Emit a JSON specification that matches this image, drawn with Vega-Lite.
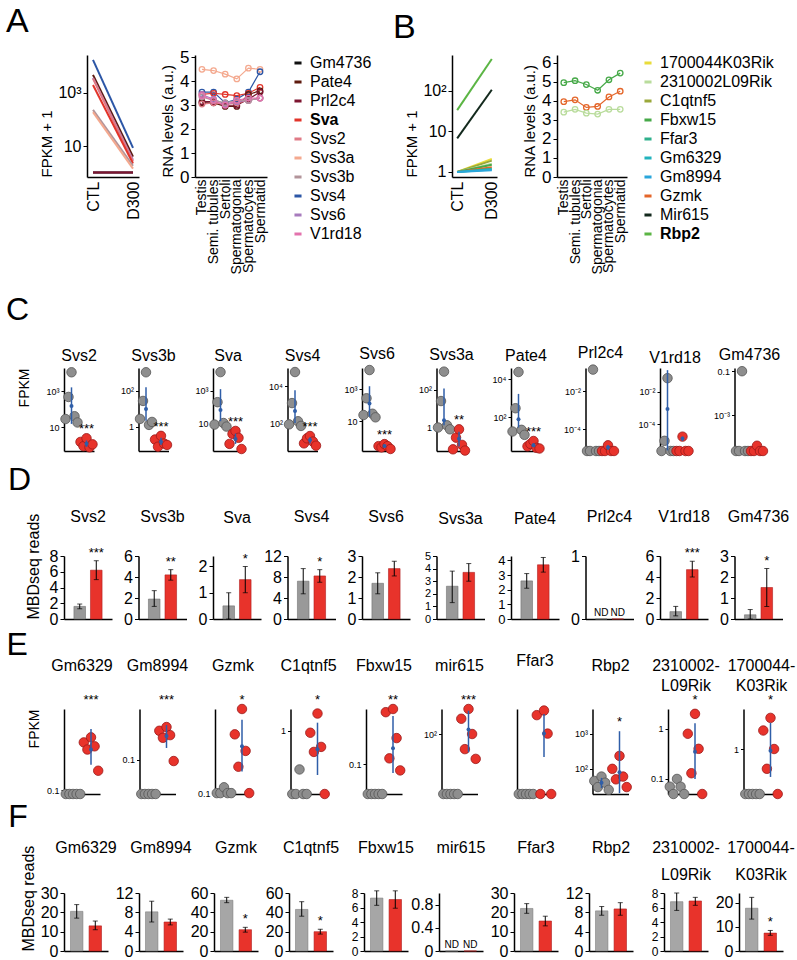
{
"$schema":"https://vega.github.io/schema/vega-lite/v6.json",
"padding":5,
"config":{"view":{"stroke":null},"font":"Liberation Sans",
"axis":{"grid":false,"domainColor":"black","domainWidth":1.5,"tickColor":"black","labelColor":"black","titleColor":"black","titleFontWeight":"normal","labelFont":"Liberation Sans","titleFont":"Liberation Sans","labelOverlap":false,"labelFontSize":16,"titleFontSize":15,"tickSize":4},
"axisBand":{"labels":false,"ticks":false},
"title":{"fontSize":16,"fontWeight":"normal","font":"Liberation Sans","color":"black"},
"text":{"font":"Liberation Sans"}},
"datasets":{
"ab":[
{"p":"A","g":"Svs4","grp":"CTL","v":17800},{"p":"A","g":"Svs4","grp":"D300","v":8.5},
{"p":"A","g":"Pate4","grp":"CTL","v":4800},{"p":"A","g":"Pate4","grp":"D300","v":4},
{"p":"A","g":"Svs6","grp":"CTL","v":3700},{"p":"A","g":"Svs6","grp":"D300","v":3},
{"p":"A","g":"Svs2","grp":"CTL","v":3500},{"p":"A","g":"Svs2","grp":"D300","v":2.6},
{"p":"A","g":"Sva","grp":"CTL","v":2000},{"p":"A","g":"Sva","grp":"D300","v":2.2},
{"p":"A","g":"Svs3b","grp":"CTL","v":230},{"p":"A","g":"Svs3b","grp":"D300","v":1.8},
{"p":"A","g":"Svs3a","grp":"CTL","v":190},{"p":"A","g":"Svs3a","grp":"D300","v":1.4},
{"p":"A","g":"V1rd18","grp":"CTL","v":1},{"p":"A","g":"V1rd18","grp":"D300","v":1},
{"p":"A","g":"Gm4736","grp":"CTL","v":1},{"p":"A","g":"Gm4736","grp":"D300","v":1},
{"p":"A","g":"Prl2c4","grp":"CTL","v":1},{"p":"A","g":"Prl2c4","grp":"D300","v":1},
{"p":"B","g":"Rbp2","grp":"CTL","v":33},{"p":"B","g":"Rbp2","grp":"D300","v":600},
{"p":"B","g":"Mir615","grp":"CTL","v":6.7},{"p":"B","g":"Mir615","grp":"D300","v":105},
{"p":"B","g":"1700044K03Rik","grp":"CTL","v":1},{"p":"B","g":"1700044K03Rik","grp":"D300","v":2.1},
{"p":"B","g":"C1qtnf5","grp":"CTL","v":1},{"p":"B","g":"C1qtnf5","grp":"D300","v":1.9},
{"p":"B","g":"2310002L09Rik","grp":"CTL","v":1},{"p":"B","g":"2310002L09Rik","grp":"D300","v":1.6},
{"p":"B","g":"Fbxw15","grp":"CTL","v":1},{"p":"B","g":"Fbxw15","grp":"D300","v":1.5},
{"p":"B","g":"Gzmk","grp":"CTL","v":1},{"p":"B","g":"Gzmk","grp":"D300","v":1.3},
{"p":"B","g":"Ffar3","grp":"CTL","v":1},{"p":"B","g":"Ffar3","grp":"D300","v":1.2},
{"p":"B","g":"Gm6329","grp":"CTL","v":1},{"p":"B","g":"Gm6329","grp":"D300","v":1.15},
{"p":"B","g":"Gm8994","grp":"CTL","v":1},{"p":"B","g":"Gm8994","grp":"D300","v":1.1}],
"rna":[
{"p":"A","g":"Svs3a","c":"Testis","v":4.5},{"p":"A","g":"Svs3a","c":"Semi. tubules","v":4.45},{"p":"A","g":"Svs3a","c":"Sertoli","v":4.3},{"p":"A","g":"Svs3a","c":"Spermatogonia","v":4.1},{"p":"A","g":"Svs3a","c":"Spermatocytes","v":4.55},{"p":"A","g":"Svs3a","c":"Spermatid","v":4.5},
{"p":"A","g":"Svs4","c":"Testis","v":3.55},{"p":"A","g":"Svs4","c":"Semi. tubules","v":3.55},{"p":"A","g":"Svs4","c":"Sertoli","v":3.1},{"p":"A","g":"Svs4","c":"Spermatogonia","v":3.25},{"p":"A","g":"Svs4","c":"Spermatocytes","v":3.55},{"p":"A","g":"Svs4","c":"Spermatid","v":4.4},
{"p":"A","g":"Sva","c":"Testis","v":3.45},{"p":"A","g":"Sva","c":"Semi. tubules","v":3.5},{"p":"A","g":"Sva","c":"Sertoli","v":3.45},{"p":"A","g":"Sva","c":"Spermatogonia","v":3.4},{"p":"A","g":"Sva","c":"Spermatocytes","v":3.5},{"p":"A","g":"Sva","c":"Spermatid","v":3.75},
{"p":"A","g":"Pate4","c":"Testis","v":3.1},{"p":"A","g":"Pate4","c":"Semi. tubules","v":3.1},{"p":"A","g":"Pate4","c":"Sertoli","v":2.95},{"p":"A","g":"Pate4","c":"Spermatogonia","v":2.95},{"p":"A","g":"Pate4","c":"Spermatocytes","v":3.45},{"p":"A","g":"Pate4","c":"Spermatid","v":3.6},
{"p":"A","g":"Prl2c4","c":"Testis","v":3.15},{"p":"A","g":"Prl2c4","c":"Semi. tubules","v":3.15},{"p":"A","g":"Prl2c4","c":"Sertoli","v":3.0},{"p":"A","g":"Prl2c4","c":"Spermatogonia","v":3.0},{"p":"A","g":"Prl2c4","c":"Spermatocytes","v":3.25},{"p":"A","g":"Prl2c4","c":"Spermatid","v":3.55},
{"p":"A","g":"Svs2","c":"Testis","v":3.05},{"p":"A","g":"Svs2","c":"Semi. tubules","v":3.1},{"p":"A","g":"Svs2","c":"Sertoli","v":3.05},{"p":"A","g":"Svs2","c":"Spermatogonia","v":3.1},{"p":"A","g":"Svs2","c":"Spermatocytes","v":3.2},{"p":"A","g":"Svs2","c":"Spermatid","v":3.3},
{"p":"A","g":"Svs6","c":"Testis","v":3.45},{"p":"A","g":"Svs6","c":"Semi. tubules","v":3.25},{"p":"A","g":"Svs6","c":"Sertoli","v":3.05},{"p":"A","g":"Svs6","c":"Spermatogonia","v":3.15},{"p":"A","g":"Svs6","c":"Spermatocytes","v":3.2},{"p":"A","g":"Svs6","c":"Spermatid","v":3.3},
{"p":"A","g":"Svs3b","c":"Testis","v":3.35},{"p":"A","g":"Svs3b","c":"Semi. tubules","v":3.2},{"p":"A","g":"Svs3b","c":"Sertoli","v":3.1},{"p":"A","g":"Svs3b","c":"Spermatogonia","v":3.2},{"p":"A","g":"Svs3b","c":"Spermatocytes","v":3.2},{"p":"A","g":"Svs3b","c":"Spermatid","v":3.3},
{"p":"A","g":"V1rd18","c":"Testis","v":3.4},{"p":"A","g":"V1rd18","c":"Semi. tubules","v":3.2},{"p":"A","g":"V1rd18","c":"Sertoli","v":3.0},{"p":"A","g":"V1rd18","c":"Spermatogonia","v":3.2},{"p":"A","g":"V1rd18","c":"Spermatocytes","v":3.3},{"p":"A","g":"V1rd18","c":"Spermatid","v":3.3},
{"p":"B","g":"Fbxw15","c":"Testis","v":4.95},{"p":"B","g":"Fbxw15","c":"Semi. tubules","v":5.05},{"p":"B","g":"Fbxw15","c":"Sertoli","v":4.85},{"p":"B","g":"Fbxw15","c":"Spermatogonia","v":4.55},{"p":"B","g":"Fbxw15","c":"Spermatocytes","v":5.1},{"p":"B","g":"Fbxw15","c":"Spermatid","v":5.45},
{"p":"B","g":"Gzmk","c":"Testis","v":3.95},{"p":"B","g":"Gzmk","c":"Semi. tubules","v":4.05},{"p":"B","g":"Gzmk","c":"Sertoli","v":3.65},{"p":"B","g":"Gzmk","c":"Spermatogonia","v":3.7},{"p":"B","g":"Gzmk","c":"Spermatocytes","v":4.2},{"p":"B","g":"Gzmk","c":"Spermatid","v":4.5},
{"p":"B","g":"2310002L09Rik","c":"Testis","v":3.4},{"p":"B","g":"2310002L09Rik","c":"Semi. tubules","v":3.55},{"p":"B","g":"2310002L09Rik","c":"Sertoli","v":3.35},{"p":"B","g":"2310002L09Rik","c":"Spermatogonia","v":3.3},{"p":"B","g":"2310002L09Rik","c":"Spermatocytes","v":3.55},{"p":"B","g":"2310002L09Rik","c":"Spermatid","v":3.55}],
"dots":[
{"g":"Svs2","k":"p","grp":"CTL","r":1,"v":28},{"g":"Svs2","k":"p","grp":"CTL","r":2,"v":470},{"g":"Svs2","k":"p","grp":"CTL","r":3,"v":11000},{"g":"Svs2","k":"p","grp":"CTL","r":4,"v":40},{"g":"Svs2","k":"p","grp":"CTL","r":5,"v":18},
{"g":"Svs2","k":"p","grp":"D300","r":1,"v":1.5},{"g":"Svs2","k":"p","grp":"D300","r":2,"v":0.87},{"g":"Svs2","k":"p","grp":"D300","r":3,"v":2.4},{"g":"Svs2","k":"p","grp":"D300","r":4,"v":0.75},{"g":"Svs2","k":"p","grp":"D300","r":5,"v":1.1},
{"g":"Svs2","k":"s","grp":"CTL","v":146,"lo":15,"hi":1600},{"g":"Svs2","k":"s","grp":"D300","v":1.2,"lo":0.8,"hi":1.8},{"g":"Svs2","k":"t","grp":"D300","v":2.4,"s":"***"},
{"g":"Svs3b","k":"p","grp":"CTL","r":1,"v":2.8},{"g":"Svs3b","k":"p","grp":"CTL","r":2,"v":28},{"g":"Svs3b","k":"p","grp":"CTL","r":3,"v":1100},{"g":"Svs3b","k":"p","grp":"CTL","r":4,"v":1.3},{"g":"Svs3b","k":"p","grp":"CTL","r":5,"v":1.9},
{"g":"Svs3b","k":"p","grp":"D300","r":1,"v":0.2},{"g":"Svs3b","k":"p","grp":"D300","r":2,"v":0.08},{"g":"Svs3b","k":"p","grp":"D300","r":3,"v":0.32},{"g":"Svs3b","k":"p","grp":"D300","r":4,"v":0.12},{"g":"Svs3b","k":"p","grp":"D300","r":5,"v":0.1},
{"g":"Svs3b","k":"s","grp":"CTL","v":10,"lo":2.2,"hi":160},{"g":"Svs3b","k":"s","grp":"D300","v":0.15,"lo":0.1,"hi":0.25},{"g":"Svs3b","k":"t","grp":"D300","v":0.32,"s":"***"},
{"g":"Sva","k":"p","grp":"CTL","r":1,"v":8},{"g":"Sva","k":"p","grp":"CTL","r":2,"v":200},{"g":"Sva","k":"p","grp":"CTL","r":3,"v":15000},{"g":"Sva","k":"p","grp":"CTL","r":4,"v":10},{"g":"Sva","k":"p","grp":"CTL","r":5,"v":6},
{"g":"Sva","k":"p","grp":"D300","r":1,"v":0.5},{"g":"Sva","k":"p","grp":"D300","r":2,"v":2.1},{"g":"Sva","k":"p","grp":"D300","r":3,"v":3.2},{"g":"Sva","k":"p","grp":"D300","r":4,"v":1.2},{"g":"Sva","k":"p","grp":"D300","r":5,"v":0.24},
{"g":"Sva","k":"s","grp":"CTL","v":65,"lo":13,"hi":1300},{"g":"Sva","k":"s","grp":"D300","v":1.0,"lo":0.5,"hi":2.2},{"g":"Sva","k":"t","grp":"D300","v":3.2,"s":"***"},
{"g":"Svs4","k":"p","grp":"CTL","r":1,"v":85},{"g":"Svs4","k":"p","grp":"CTL","r":2,"v":1200},{"g":"Svs4","k":"p","grp":"CTL","r":3,"v":57000},{"g":"Svs4","k":"p","grp":"CTL","r":4,"v":125},{"g":"Svs4","k":"p","grp":"CTL","r":5,"v":70},
{"g":"Svs4","k":"p","grp":"D300","r":1,"v":8},{"g":"Svs4","k":"p","grp":"D300","r":2,"v":15},{"g":"Svs4","k":"p","grp":"D300","r":3,"v":20},{"g":"Svs4","k":"p","grp":"D300","r":4,"v":10},{"g":"Svs4","k":"p","grp":"D300","r":5,"v":6},
{"g":"Svs4","k":"s","grp":"CTL","v":450,"lo":100,"hi":6000},{"g":"Svs4","k":"s","grp":"D300","v":12,"lo":8,"hi":17},{"g":"Svs4","k":"t","grp":"D300","v":20,"s":"***"},
{"g":"Svs6","k":"p","grp":"CTL","r":1,"v":25},{"g":"Svs6","k":"p","grp":"CTL","r":2,"v":270},{"g":"Svs6","k":"p","grp":"CTL","r":3,"v":15000},{"g":"Svs6","k":"p","grp":"CTL","r":4,"v":30},{"g":"Svs6","k":"p","grp":"CTL","r":5,"v":18},
{"g":"Svs6","k":"p","grp":"D300","r":1,"v":0.3},{"g":"Svs6","k":"p","grp":"D300","r":2,"v":0.25},{"g":"Svs6","k":"p","grp":"D300","r":3,"v":0.4},{"g":"Svs6","k":"p","grp":"D300","r":4,"v":0.3},{"g":"Svs6","k":"p","grp":"D300","r":5,"v":0.2},
{"g":"Svs6","k":"s","grp":"CTL","v":130,"lo":20,"hi":1500},{"g":"Svs6","k":"s","grp":"D300","v":0.3,"lo":0.24,"hi":0.37},{"g":"Svs6","k":"t","grp":"D300","v":0.4,"s":"***"},
{"g":"Svs3a","k":"p","grp":"CTL","r":1,"v":1.0},{"g":"Svs3a","k":"p","grp":"CTL","r":2,"v":25},{"g":"Svs3a","k":"p","grp":"CTL","r":3,"v":900},{"g":"Svs3a","k":"p","grp":"CTL","r":4,"v":1.3},{"g":"Svs3a","k":"p","grp":"CTL","r":5,"v":0.8},
{"g":"Svs3a","k":"p","grp":"D300","r":1,"v":0.07},{"g":"Svs3a","k":"p","grp":"D300","r":2,"v":0.29},{"g":"Svs3a","k":"p","grp":"D300","r":3,"v":0.8},{"g":"Svs3a","k":"p","grp":"D300","r":4,"v":0.12},{"g":"Svs3a","k":"p","grp":"D300","r":5,"v":0.06},
{"g":"Svs3a","k":"s","grp":"CTL","v":2.4,"lo":1.3,"hi":115},{"g":"Svs3a","k":"s","grp":"D300","v":0.25,"lo":0.1,"hi":0.6},{"g":"Svs3a","k":"t","grp":"D300","v":0.8,"s":"**"},
{"g":"Pate4","k":"p","grp":"CTL","r":1,"v":18},{"g":"Pate4","k":"p","grp":"CTL","r":2,"v":300},{"g":"Pate4","k":"p","grp":"CTL","r":3,"v":24000},{"g":"Pate4","k":"p","grp":"CTL","r":4,"v":22},{"g":"Pate4","k":"p","grp":"CTL","r":5,"v":12},
{"g":"Pate4","k":"p","grp":"D300","r":1,"v":3},{"g":"Pate4","k":"p","grp":"D300","r":2,"v":4},{"g":"Pate4","k":"p","grp":"D300","r":3,"v":5.7},{"g":"Pate4","k":"p","grp":"D300","r":4,"v":2.5},{"g":"Pate4","k":"p","grp":"D300","r":5,"v":2.3},
{"g":"Pate4","k":"s","grp":"CTL","v":78,"lo":29,"hi":1700},{"g":"Pate4","k":"s","grp":"D300","v":3.4,"lo":2.7,"hi":4.3},{"g":"Pate4","k":"t","grp":"D300","v":5.7,"s":"***"},
{"g":"Prl2c4","k":"p","grp":"CTL","r":1,"v":7e-6},{"g":"Prl2c4","k":"p","grp":"CTL","r":2,"v":7e-6},{"g":"Prl2c4","k":"p","grp":"CTL","r":3,"v":0.14},{"g":"Prl2c4","k":"p","grp":"CTL","r":4,"v":7e-6},{"g":"Prl2c4","k":"p","grp":"CTL","r":5,"v":7e-6},
{"g":"Prl2c4","k":"p","grp":"D300","r":1,"v":7e-6},{"g":"Prl2c4","k":"p","grp":"D300","r":2,"v":7e-6},{"g":"Prl2c4","k":"p","grp":"D300","r":3,"v":1.4e-5},{"g":"Prl2c4","k":"p","grp":"D300","r":4,"v":7e-6},{"g":"Prl2c4","k":"p","grp":"D300","r":5,"v":7e-6},
{"g":"Prl2c4","k":"s","grp":"D300","v":1.1e-5,"lo":8e-6,"hi":1.4e-5},
{"g":"V1rd18","k":"p","grp":"CTL","r":1,"v":2.4e-6},{"g":"V1rd18","k":"p","grp":"CTL","r":2,"v":1e-5},{"g":"V1rd18","k":"p","grp":"CTL","r":3,"v":0.065},{"g":"V1rd18","k":"p","grp":"CTL","r":4,"v":2.4e-6},{"g":"V1rd18","k":"p","grp":"CTL","r":5,"v":2.4e-6},
{"g":"V1rd18","k":"p","grp":"D300","r":1,"v":2.4e-6},{"g":"V1rd18","k":"p","grp":"D300","r":2,"v":2.4e-6},{"g":"V1rd18","k":"p","grp":"D300","r":3,"v":1.8e-5},{"g":"V1rd18","k":"p","grp":"D300","r":4,"v":2.4e-6},{"g":"V1rd18","k":"p","grp":"D300","r":5,"v":2.4e-6},
{"g":"V1rd18","k":"s","grp":"CTL","v":8.7e-4,"lo":2.6e-6,"hi":0.2},{"g":"V1rd18","k":"s","grp":"D300","v":1.4e-5,"lo":1e-5,"hi":1.8e-5},
{"g":"Gm4736","k":"p","grp":"CTL","r":1,"v":2.3e-5},{"g":"Gm4736","k":"p","grp":"CTL","r":2,"v":2.3e-5},{"g":"Gm4736","k":"p","grp":"CTL","r":3,"v":0.1},{"g":"Gm4736","k":"p","grp":"CTL","r":4,"v":2.3e-5},{"g":"Gm4736","k":"p","grp":"CTL","r":5,"v":2.3e-5},
{"g":"Gm4736","k":"p","grp":"D300","r":1,"v":2.3e-5},{"g":"Gm4736","k":"p","grp":"D300","r":2,"v":2.3e-5},{"g":"Gm4736","k":"p","grp":"D300","r":3,"v":4e-5},{"g":"Gm4736","k":"p","grp":"D300","r":4,"v":2.3e-5},{"g":"Gm4736","k":"p","grp":"D300","r":5,"v":2.3e-5},
{"g":"Gm6329","k":"p","grp":"CTL","r":1,"v":0.08},{"g":"Gm6329","k":"p","grp":"CTL","r":2,"v":0.08},{"g":"Gm6329","k":"p","grp":"CTL","r":3,"v":0.08},{"g":"Gm6329","k":"p","grp":"CTL","r":4,"v":0.08},{"g":"Gm6329","k":"p","grp":"CTL","r":5,"v":0.08},
{"g":"Gm6329","k":"p","grp":"D300","r":1,"v":1.5},{"g":"Gm6329","k":"p","grp":"D300","r":2,"v":1.0},{"g":"Gm6329","k":"p","grp":"D300","r":3,"v":2},{"g":"Gm6329","k":"p","grp":"D300","r":4,"v":1.2},{"g":"Gm6329","k":"p","grp":"D300","r":5,"v":0.3},
{"g":"Gm6329","k":"s","grp":"D300","v":1.0,"lo":0.42,"hi":3.2},{"g":"Gm6329","k":"t","grp":"D300","v":10,"s":"***"},
{"g":"Gm8994","k":"p","grp":"CTL","r":1,"v":0.014},{"g":"Gm8994","k":"p","grp":"CTL","r":2,"v":0.014},{"g":"Gm8994","k":"p","grp":"CTL","r":3,"v":0.014},{"g":"Gm8994","k":"p","grp":"CTL","r":4,"v":0.014},{"g":"Gm8994","k":"p","grp":"CTL","r":5,"v":0.014},
{"g":"Gm8994","k":"p","grp":"D300","r":1,"v":0.54},{"g":"Gm8994","k":"p","grp":"D300","r":2,"v":0.36},{"g":"Gm8994","k":"p","grp":"D300","r":3,"v":0.67},{"g":"Gm8994","k":"p","grp":"D300","r":4,"v":0.42},{"g":"Gm8994","k":"p","grp":"D300","r":5,"v":0.094},
{"g":"Gm8994","k":"s","grp":"D300","v":0.4,"lo":0.2,"hi":0.75},{"g":"Gm8994","k":"t","grp":"D300","v":1.9,"s":"***"},
{"g":"Gzmk","k":"p","grp":"CTL","r":1,"v":0.1},{"g":"Gzmk","k":"p","grp":"CTL","r":2,"v":0.1},{"g":"Gzmk","k":"p","grp":"CTL","r":3,"v":0.14},{"g":"Gzmk","k":"p","grp":"CTL","r":4,"v":0.1},{"g":"Gzmk","k":"p","grp":"CTL","r":5,"v":0.1},
{"g":"Gzmk","k":"p","grp":"D300","r":1,"v":3},{"g":"Gzmk","k":"p","grp":"D300","r":2,"v":0.46},{"g":"Gzmk","k":"p","grp":"D300","r":3,"v":13},{"g":"Gzmk","k":"p","grp":"D300","r":4,"v":1.15},{"g":"Gzmk","k":"p","grp":"D300","r":5,"v":0.1},
{"g":"Gzmk","k":"s","grp":"D300","v":1.5,"lo":0.35,"hi":7},{"g":"Gzmk","k":"t","grp":"D300","v":13,"s":"*"},
{"g":"C1qtnf5","k":"p","grp":"CTL","r":1,"v":0.027},{"g":"C1qtnf5","k":"p","grp":"CTL","r":2,"v":0.027},{"g":"C1qtnf5","k":"p","grp":"CTL","r":3,"v":0.11},{"g":"C1qtnf5","k":"p","grp":"CTL","r":4,"v":0.027},{"g":"C1qtnf5","k":"p","grp":"CTL","r":5,"v":0.027},
{"g":"C1qtnf5","k":"p","grp":"D300","r":1,"v":0.9},{"g":"C1qtnf5","k":"p","grp":"D300","r":2,"v":0.3},{"g":"C1qtnf5","k":"p","grp":"D300","r":3,"v":2.7},{"g":"C1qtnf5","k":"p","grp":"D300","r":4,"v":0.4},{"g":"C1qtnf5","k":"p","grp":"D300","r":5,"v":0.027},
{"g":"C1qtnf5","k":"s","grp":"D300","v":0.35,"lo":0.08,"hi":1.6},{"g":"C1qtnf5","k":"t","grp":"D300","v":3.5,"s":"*"},
{"g":"Fbxw15","k":"p","grp":"CTL","r":1,"v":0.018},{"g":"Fbxw15","k":"p","grp":"CTL","r":2,"v":0.018},{"g":"Fbxw15","k":"p","grp":"CTL","r":3,"v":0.018},{"g":"Fbxw15","k":"p","grp":"CTL","r":4,"v":0.018},{"g":"Fbxw15","k":"p","grp":"CTL","r":5,"v":0.018},
{"g":"Fbxw15","k":"p","grp":"D300","r":1,"v":2.0},{"g":"Fbxw15","k":"p","grp":"D300","r":2,"v":0.14},{"g":"Fbxw15","k":"p","grp":"D300","r":3,"v":2.4},{"g":"Fbxw15","k":"p","grp":"D300","r":4,"v":0.45},{"g":"Fbxw15","k":"p","grp":"D300","r":5,"v":0.07},
{"g":"Fbxw15","k":"s","grp":"D300","v":0.25,"lo":0.06,"hi":1.6},{"g":"Fbxw15","k":"t","grp":"D300","v":2.4,"s":"**"},
{"g":"mir615","k":"p","grp":"CTL","r":1,"v":3.2},{"g":"mir615","k":"p","grp":"CTL","r":2,"v":3.2},{"g":"mir615","k":"p","grp":"CTL","r":3,"v":3.2},{"g":"mir615","k":"p","grp":"CTL","r":4,"v":3.2},{"g":"mir615","k":"p","grp":"CTL","r":5,"v":3.2},
{"g":"mir615","k":"p","grp":"D300","r":1,"v":240},{"g":"mir615","k":"p","grp":"D300","r":2,"v":42},{"g":"mir615","k":"p","grp":"D300","r":3,"v":420},{"g":"mir615","k":"p","grp":"D300","r":4,"v":100},{"g":"mir615","k":"p","grp":"D300","r":5,"v":24},
{"g":"mir615","k":"s","grp":"D300","v":130,"lo":35,"hi":380},{"g":"mir615","k":"t","grp":"D300","v":420,"s":"***"},
{"g":"Ffar3","k":"p","grp":"CTL","r":1,"v":0.01},{"g":"Ffar3","k":"p","grp":"CTL","r":2,"v":0.01},{"g":"Ffar3","k":"p","grp":"CTL","r":3,"v":0.01},{"g":"Ffar3","k":"p","grp":"CTL","r":4,"v":0.01},{"g":"Ffar3","k":"p","grp":"CTL","r":5,"v":0.01},
{"g":"Ffar3","k":"p","grp":"D300","r":1,"v":0.85},{"g":"Ffar3","k":"p","grp":"D300","r":2,"v":0.01},{"g":"Ffar3","k":"p","grp":"D300","r":3,"v":1.1},{"g":"Ffar3","k":"p","grp":"D300","r":4,"v":0.3},{"g":"Ffar3","k":"p","grp":"D300","r":5,"v":0.01},
{"g":"Ffar3","k":"s","grp":"D300","v":0.3,"lo":0.08,"hi":0.9},
{"g":"Rbp2","k":"p","grp":"CTL","r":1,"v":45},{"g":"Rbp2","k":"p","grp":"CTL","r":2,"v":30},{"g":"Rbp2","k":"p","grp":"CTL","r":3,"v":60},{"g":"Rbp2","k":"p","grp":"CTL","r":4,"v":40},{"g":"Rbp2","k":"p","grp":"CTL","r":5,"v":25},
{"g":"Rbp2","k":"p","grp":"D300","r":1,"v":100},{"g":"Rbp2","k":"p","grp":"D300","r":2,"v":50},{"g":"Rbp2","k":"p","grp":"D300","r":3,"v":235},{"g":"Rbp2","k":"p","grp":"D300","r":4,"v":60},{"g":"Rbp2","k":"p","grp":"D300","r":5,"v":30},
{"g":"Rbp2","k":"s","grp":"CTL","v":40,"lo":28,"hi":55},{"g":"Rbp2","k":"s","grp":"D300","v":80,"lo":20,"hi":1200},{"g":"Rbp2","k":"t","grp":"D300","v":1200,"s":"*"},
{"g":"2310002L09Rik","k":"p","grp":"CTL","r":1,"v":0.07},{"g":"2310002L09Rik","k":"p","grp":"CTL","r":2,"v":0.05},{"g":"2310002L09Rik","k":"p","grp":"CTL","r":3,"v":0.1},{"g":"2310002L09Rik","k":"p","grp":"CTL","r":4,"v":0.07},{"g":"2310002L09Rik","k":"p","grp":"CTL","r":5,"v":0.05},
{"g":"2310002L09Rik","k":"p","grp":"D300","r":1,"v":0.8},{"g":"2310002L09Rik","k":"p","grp":"D300","r":2,"v":0.13},{"g":"2310002L09Rik","k":"p","grp":"D300","r":3,"v":2},{"g":"2310002L09Rik","k":"p","grp":"D300","r":4,"v":0.4},{"g":"2310002L09Rik","k":"p","grp":"D300","r":5,"v":0.05},
{"g":"2310002L09Rik","k":"s","grp":"D300","v":0.35,"lo":0.1,"hi":1.3},{"g":"2310002L09Rik","k":"t","grp":"D300","v":2.5,"s":"*"},
{"g":"1700044K03Rik","k":"p","grp":"CTL","r":1,"v":0.075},{"g":"1700044K03Rik","k":"p","grp":"CTL","r":2,"v":0.075},{"g":"1700044K03Rik","k":"p","grp":"CTL","r":3,"v":0.075},{"g":"1700044K03Rik","k":"p","grp":"CTL","r":4,"v":0.075},{"g":"1700044K03Rik","k":"p","grp":"CTL","r":5,"v":0.075},
{"g":"1700044K03Rik","k":"p","grp":"D300","r":1,"v":2.9},{"g":"1700044K03Rik","k":"p","grp":"D300","r":2,"v":0.32},{"g":"1700044K03Rik","k":"p","grp":"D300","r":3,"v":6},{"g":"1700044K03Rik","k":"p","grp":"D300","r":4,"v":1},{"g":"1700044K03Rik","k":"p","grp":"D300","r":5,"v":0.075},
{"g":"1700044K03Rik","k":"s","grp":"D300","v":0.9,"lo":0.2,"hi":4.5},{"g":"1700044K03Rik","k":"t","grp":"D300","v":10,"s":"*"}],
"bars":[
{"g":"Svs2","grp":"CTL","v":1.6,"lo":1.3,"hi":1.9},{"g":"Svs2","grp":"D300","v":6.2,"lo":5.0,"hi":7.4,"s":"***"},
{"g":"Svs3b","grp":"CTL","v":1.9,"lo":1.2,"hi":2.7},{"g":"Svs3b","grp":"D300","v":4.2,"lo":3.7,"hi":4.7,"s":"**"},
{"g":"Sva","grp":"CTL","v":0.5,"lo":0.0,"hi":1.0},{"g":"Sva","grp":"D300","v":1.5,"lo":1.0,"hi":2.0,"s":"*"},
{"g":"Svs4","grp":"CTL","v":7.2,"lo":4.8,"hi":9.6},{"g":"Svs4","grp":"D300","v":8.2,"lo":7.0,"hi":9.4,"s":"*"},
{"g":"Svs6","grp":"CTL","v":1.7,"lo":1.2,"hi":2.2},{"g":"Svs6","grp":"D300","v":2.4,"lo":2.05,"hi":2.75},
{"g":"Svs3a","grp":"CTL","v":2.6,"lo":1.3,"hi":3.8},{"g":"Svs3a","grp":"D300","v":3.7,"lo":3.0,"hi":4.4},
{"g":"Pate4","grp":"CTL","v":2.6,"lo":2.1,"hi":3.1},{"g":"Pate4","grp":"D300","v":3.7,"lo":3.2,"hi":4.2},
{"g":"Prl2c4","grp":"CTL","v":0,"lo":0,"hi":0,"s":"ND"},{"g":"Prl2c4","grp":"D300","v":0,"lo":0,"hi":0,"s":"ND"},
{"g":"V1rd18","grp":"CTL","v":0.7,"lo":0.3,"hi":1.2},{"g":"V1rd18","grp":"D300","v":4.7,"lo":4.0,"hi":5.5,"s":"***"},
{"g":"Gm4736","grp":"CTL","v":0.2,"lo":0.0,"hi":0.45},{"g":"Gm4736","grp":"D300","v":1.5,"lo":0.6,"hi":2.4,"s":"*"},
{"g":"Gm6329","grp":"CTL","v":20.5,"lo":17,"hi":24},{"g":"Gm6329","grp":"D300","v":13,"lo":11,"hi":15.5},
{"g":"Gm8994","grp":"CTL","v":8.1,"lo":6,"hi":10.3},{"g":"Gm8994","grp":"D300","v":6,"lo":5.4,"hi":6.6},
{"g":"Gzmk","grp":"CTL","v":52.5,"lo":50,"hi":55.5},{"g":"Gzmk","grp":"D300","v":22,"lo":19.5,"hi":24.5,"s":"*"},
{"g":"C1qtnf5","grp":"CTL","v":43,"lo":36,"hi":51},{"g":"C1qtnf5","grp":"D300","v":20,"lo":17.5,"hi":22.5,"s":"*"},
{"g":"Fbxw15","grp":"CTL","v":7.3,"lo":6.3,"hi":8.3},{"g":"Fbxw15","grp":"D300","v":7.1,"lo":5.9,"hi":8.3},
{"g":"mir615","grp":"CTL","v":0,"lo":0,"hi":0,"s":"ND"},{"g":"mir615","grp":"D300","v":0,"lo":0,"hi":0,"s":"ND"},
{"g":"Ffar3","grp":"CTL","v":22,"lo":19.5,"hi":24.5},{"g":"Ffar3","grp":"D300","v":15.5,"lo":13,"hi":18},
{"g":"Rbp2","grp":"CTL","v":8.3,"lo":7.4,"hi":9.2},{"g":"Rbp2","grp":"D300","v":8.7,"lo":7.4,"hi":10},
{"g":"2310002L09Rik","grp":"CTL","v":6.8,"lo":5.6,"hi":8},{"g":"2310002L09Rik","grp":"D300","v":6.9,"lo":6.3,"hi":7.4},
{"g":"1700044K03Rik","grp":"CTL","v":17.7,"lo":13.2,"hi":22.2},{"g":"1700044K03Rik","grp":"D300","v":7.4,"lo":6.5,"hi":8.5,"s":"*"}]
},
"columns":1,"align":"none","spacing":20,
"resolve":{"scale":{"xOffset":"independent","color":"independent"}},
"concat":[
{"bounds":"flush","spacing":22,"resolve":{"scale":{"color":"independent"}},"hconcat":[
 {"width":1,"height":1,"title":{"text":"A","anchor":"start","fontSize":34,"offset":16,"dx":-58},"data":{"name":"ab"},"transform":[{"filter":"false"}],"mark":"point"},
 {"spacing":20,"resolve":{"scale":{"color":"independent"}},"hconcat":[
 {"spacing":18,"hconcat":[
  {"width":52,"height":122,"data":{"name":"ab"},"transform":[{"filter":"datum.p=='A'"}],"mark":{"type":"line","strokeWidth":2},
   "encoding":{"x":{"field":"grp","type":"nominal","title":null,"scale":{"domain":["CTL","D300"],"padding":0.15},"axis":{"labelAngle":-90,"ticks":false,"labelPadding":4}},
   "y":{"field":"v","type":"quantitative","title":"FPKM + 1","scale":{"type":"log","domain":[0.68,27000]},"axis":{"values":[10,1000],"titleAnchor":"start","titlePadding":3,"labelExpr":"datum.value>=1&&datum.value<=10?datum.value+'':(datum.value>0.09&&datum.value<0.11)?'0.1':'10'+(datum.value<1?'⁻':'')+['⁰','¹','²','³','⁴','⁵','⁶'][abs(round(log(datum.value)/LN10))]"}},
   "color":{"field":"g","type":"nominal","scale":{"domain":["Gm4736","Pate4","Prl2c4","Sva","Svs2","Svs3a","Svs3b","Svs4","Svs6","V1rd18"],"range":["#111111","#5e1a0e","#7d1530","#e2342a","#e07a86","#f4a98f","#b2949a","#2c56a6","#a77bbd","#e372ad"]},
   "legend":{"title":null,"orient":"right","offset":22,"symbolType":"stroke","symbolStrokeWidth":3,"symbolSize":50,"labelFontSize":16,"rowPadding":3,"labelOffset":4,"encode":{"labels":{"update":{"fontWeight":{"signal":"datum.label=='Sva'||datum.label=='Rbp2'?'bold':'normal'"}}}}}}}},
  {"width":72,"height":122,"data":{"name":"rna"},"transform":[{"filter":"datum.p=='A'"}],"mark":{"type":"line","strokeWidth":1.2,"point":{"filled":false,"size":30,"strokeWidth":1.3}},
   "encoding":{"x":{"field":"c","type":"nominal","title":null,"sort":["Testis","Semi. tubules","Sertoli","Spermatogonia","Spermatocytes","Spermatid"],"scale":{"padding":0.6},"axis":{"labelAngle":-90,"labelFontSize":14,"ticks":false}},
   "y":{"field":"v","type":"quantitative","title":"RNA levels (a.u.)","scale":{"domain":[0,5.1]},"axis":{"values":[0,1,2,3,4,5],"labelFontSize":17,"titleAnchor":"start"}},
   "color":{"field":"g","type":"nominal","scale":{"domain":["Gm4736","Pate4","Prl2c4","Sva","Svs2","Svs3a","Svs3b","Svs4","Svs6","V1rd18"],"range":["#111111","#5e1a0e","#7d1530","#e2342a","#e07a86","#f4a98f","#b2949a","#2c56a6","#a77bbd","#e372ad"]},
   "legend":{"title":null,"orient":"right","offset":22,"symbolType":"stroke","symbolStrokeWidth":3,"symbolSize":50,"labelFontSize":16,"rowPadding":3,"labelOffset":4,"encode":{"labels":{"update":{"fontWeight":{"signal":"datum.label=='Sva'||datum.label=='Rbp2'?'bold':'normal'"}}}}}}}}
 ]},
 {"title":{"text":"B","anchor":"start","fontSize":34,"offset":9,"dx":-12},"spacing":22,"hconcat":[
  {"width":45,"height":122,"data":{"name":"ab"},"transform":[{"filter":"datum.p=='B'"}],"mark":{"type":"line","strokeWidth":2},
   "encoding":{"x":{"field":"grp","type":"nominal","title":null,"scale":{"domain":["CTL","D300"],"padding":0.15},"axis":{"labelAngle":-90,"ticks":false,"labelPadding":4}},
   "y":{"field":"v","type":"quantitative","title":"FPKM + 1","scale":{"type":"log","domain":[0.75,750]},"axis":{"values":[1,10,100],"titleAnchor":"start","titlePadding":3,"labelExpr":"datum.value>=1&&datum.value<=10?datum.value+'':(datum.value>0.09&&datum.value<0.11)?'0.1':'10'+(datum.value<1?'⁻':'')+['⁰','¹','²','³','⁴','⁵','⁶'][abs(round(log(datum.value)/LN10))]"}},
   "color":{"field":"g","type":"nominal","scale":{"domain":["1700044K03Rik","2310002L09Rik","C1qtnf5","Fbxw15","Ffar3","Gm6329","Gm8994","Gzmk","Mir615","Rbp2"],"range":["#e9dc3a","#b9dc9c","#9aa83a","#46a948","#2fb08c","#22b3bd","#2aa6db","#e4662a","#13291d","#5bb544"]},
   "legend":{"title":null,"orient":"right","offset":12,"symbolType":"stroke","symbolStrokeWidth":3,"symbolSize":50,"labelFontSize":16,"rowPadding":3,"labelOffset":4,"encode":{"labels":{"update":{"fontWeight":{"signal":"datum.label=='Sva'||datum.label=='Rbp2'?'bold':'normal'"}}}}}}}},
  {"width":70,"height":122,"data":{"name":"rna"},"transform":[{"filter":"datum.p=='B'"}],"mark":{"type":"line","strokeWidth":1.2,"point":{"filled":false,"size":30,"strokeWidth":1.3}},
   "encoding":{"x":{"field":"c","type":"nominal","title":null,"sort":["Testis","Semi. tubules","Sertoli","Spermatogonia","Spermatocytes","Spermatid"],"scale":{"padding":0.6},"axis":{"labelAngle":-90,"labelFontSize":14,"ticks":false}},
   "y":{"field":"v","type":"quantitative","title":"RNA levels (a.u.)","scale":{"domain":[0,6.4]},"axis":{"values":[0,1,2,3,4,5,6],"labelFontSize":17,"titleAnchor":"start"}},
   "color":{"field":"g","type":"nominal","scale":{"domain":["1700044K03Rik","2310002L09Rik","C1qtnf5","Fbxw15","Ffar3","Gm6329","Gm8994","Gzmk","Mir615","Rbp2"],"range":["#e9dc3a","#b9dc9c","#9aa83a","#46a948","#2fb08c","#22b3bd","#2aa6db","#e4662a","#13291d","#5bb544"]},
   "legend":{"title":null,"orient":"right","offset":12,"symbolType":"stroke","symbolStrokeWidth":3,"symbolSize":50,"labelFontSize":16,"rowPadding":3,"labelOffset":4,"encode":{"labels":{"update":{"fontWeight":{"signal":"datum.label=='Sva'||datum.label=='Rbp2'?'bold':'normal'"}}}}}}}}
 ]}
 ]}
]},
{"columns":1,"align":"none","spacing":2,"resolve":{"scale":{"xOffset":"independent"}},"concat":[
 {"columns":1,"align":"none","spacing":6,"resolve":{"scale":{"xOffset":"independent"}},"concat":[
  {"title":{"text":"C","anchor":"start","fontSize":32,"offset":18,"dx":-12},"data":{"name":"dots"},"bounds":"flush","spacing":44.5,"resolve":{"scale":{"xOffset":"independent"}},"hconcat":[
   {"title":{"text":"Svs2","offset":2},"width":30,"height":83,"transform":[{"filter":"datum.g=='Svs2'"}],"encoding":{"x":{"field":"grp","type":"nominal","title":null,"scale":{"domain":["CTL","D300"],"paddingInner":0,"paddingOuter":0}},"y":{"field":"v","type":"quantitative","title":"FPKM","scale":{"type":"log","domain":[0.47,19000]},"axis":{"values":[10,1000],"labelExpr":"datum.value>=1&&datum.value<=10?datum.value+'':(datum.value>0.09&&datum.value<0.11)?'0.1':'10'+(datum.value<1?'⁻':'')+['⁰','¹','²','³','⁴','⁵','⁶'][abs(round(log(datum.value)/LN10))]","labelFontSize":9,"tickSize":3,"titleFontSize":14,"titlePadding":14,"titleAnchor":"end"}}},
    "layer":[{"transform":[{"filter":"datum.k=='p'"}],"mark":{"type":"circle","size":90,"opacity":1,"strokeWidth":0.8},"encoding":{"xOffset":{"field":"r","type":"nominal"},"fill":{"condition":{"test":"datum.grp=='CTL'","value":"#8e8e8e"},"value":"#e8332b"},"stroke":{"condition":{"test":"datum.grp=='CTL'","value":"#555555"},"value":"#9a1b1b"}}},{"transform":[{"filter":"datum.k=='s'"}],"mark":{"type":"rule","color":"#2f5ea8","strokeWidth":1.5},"encoding":{"y":{"field":"lo","type":"quantitative","title":"FPKM"},"y2":{"field":"hi"}}},{"transform":[{"filter":"datum.k=='s'"}],"mark":{"type":"circle","color":"#2f5ea8","size":16,"opacity":1}},{"transform":[{"filter":"datum.k=='t'"}],"mark":{"type":"text","dy":-9,"fontSize":13},"encoding":{"text":{"field":"s"}}}]},
   {"title":{"text":"Svs3b","offset":2},"width":30,"height":83,"transform":[{"filter":"datum.g=='Svs3b'"}],"encoding":{"x":{"field":"grp","type":"nominal","title":null,"scale":{"domain":["CTL","D300"],"paddingInner":0,"paddingOuter":0}},"y":{"field":"v","type":"quantitative","title":null,"scale":{"type":"log","domain":[0.046,1900]},"axis":{"values":[1,100],"labelExpr":"datum.value>=1&&datum.value<=10?datum.value+'':(datum.value>0.09&&datum.value<0.11)?'0.1':'10'+(datum.value<1?'⁻':'')+['⁰','¹','²','³','⁴','⁵','⁶'][abs(round(log(datum.value)/LN10))]","labelFontSize":9,"tickSize":3}}},
    "layer":[{"transform":[{"filter":"datum.k=='p'"}],"mark":{"type":"circle","size":90,"opacity":1,"strokeWidth":0.8},"encoding":{"xOffset":{"field":"r","type":"nominal"},"fill":{"condition":{"test":"datum.grp=='CTL'","value":"#8e8e8e"},"value":"#e8332b"},"stroke":{"condition":{"test":"datum.grp=='CTL'","value":"#555555"},"value":"#9a1b1b"}}},{"transform":[{"filter":"datum.k=='s'"}],"mark":{"type":"rule","color":"#2f5ea8","strokeWidth":1.5},"encoding":{"y":{"field":"lo","type":"quantitative","title":null},"y2":{"field":"hi"}}},{"transform":[{"filter":"datum.k=='s'"}],"mark":{"type":"circle","color":"#2f5ea8","size":16,"opacity":1}},{"transform":[{"filter":"datum.k=='t'"}],"mark":{"type":"text","dy":-9,"fontSize":13},"encoding":{"text":{"field":"s"}}}]},
   {"title":{"text":"Sva","offset":2},"width":30,"height":83,"transform":[{"filter":"datum.g=='Sva'"}],"encoding":{"x":{"field":"grp","type":"nominal","title":null,"scale":{"domain":["CTL","D300"],"paddingInner":0,"paddingOuter":0}},"y":{"field":"v","type":"quantitative","title":null,"scale":{"type":"log","domain":[0.18,27000]},"axis":{"values":[10,1000],"labelExpr":"datum.value>=1&&datum.value<=10?datum.value+'':(datum.value>0.09&&datum.value<0.11)?'0.1':'10'+(datum.value<1?'⁻':'')+['⁰','¹','²','³','⁴','⁵','⁶'][abs(round(log(datum.value)/LN10))]","labelFontSize":9,"tickSize":3}}},
    "layer":[{"transform":[{"filter":"datum.k=='p'"}],"mark":{"type":"circle","size":90,"opacity":1,"strokeWidth":0.8},"encoding":{"xOffset":{"field":"r","type":"nominal"},"fill":{"condition":{"test":"datum.grp=='CTL'","value":"#8e8e8e"},"value":"#e8332b"},"stroke":{"condition":{"test":"datum.grp=='CTL'","value":"#555555"},"value":"#9a1b1b"}}},{"transform":[{"filter":"datum.k=='s'"}],"mark":{"type":"rule","color":"#2f5ea8","strokeWidth":1.5},"encoding":{"y":{"field":"lo","type":"quantitative","title":null},"y2":{"field":"hi"}}},{"transform":[{"filter":"datum.k=='s'"}],"mark":{"type":"circle","color":"#2f5ea8","size":16,"opacity":1}},{"transform":[{"filter":"datum.k=='t'"}],"mark":{"type":"text","dy":-9,"fontSize":13},"encoding":{"text":{"field":"s"}}}]},
   {"title":{"text":"Svs4","offset":2},"width":30,"height":83,"transform":[{"filter":"datum.g=='Svs4'"}],"encoding":{"x":{"field":"grp","type":"nominal","title":null,"scale":{"domain":["CTL","D300"],"paddingInner":0,"paddingOuter":0}},"y":{"field":"v","type":"quantitative","title":null,"scale":{"type":"log","domain":[3.1,94000]},"axis":{"values":[100,10000],"labelExpr":"datum.value>=1&&datum.value<=10?datum.value+'':(datum.value>0.09&&datum.value<0.11)?'0.1':'10'+(datum.value<1?'⁻':'')+['⁰','¹','²','³','⁴','⁵','⁶'][abs(round(log(datum.value)/LN10))]","labelFontSize":9,"tickSize":3}}},
    "layer":[{"transform":[{"filter":"datum.k=='p'"}],"mark":{"type":"circle","size":90,"opacity":1,"strokeWidth":0.8},"encoding":{"xOffset":{"field":"r","type":"nominal"},"fill":{"condition":{"test":"datum.grp=='CTL'","value":"#8e8e8e"},"value":"#e8332b"},"stroke":{"condition":{"test":"datum.grp=='CTL'","value":"#555555"},"value":"#9a1b1b"}}},{"transform":[{"filter":"datum.k=='s'"}],"mark":{"type":"rule","color":"#2f5ea8","strokeWidth":1.5},"encoding":{"y":{"field":"lo","type":"quantitative","title":null},"y2":{"field":"hi"}}},{"transform":[{"filter":"datum.k=='s'"}],"mark":{"type":"circle","color":"#2f5ea8","size":16,"opacity":1}},{"transform":[{"filter":"datum.k=='t'"}],"mark":{"type":"text","dy":-9,"fontSize":13},"encoding":{"text":{"field":"s"}}}]},
   {"title":{"text":"Svs6","offset":2},"width":30,"height":83,"transform":[{"filter":"datum.g=='Svs6'"}],"encoding":{"x":{"field":"grp","type":"nominal","title":null,"scale":{"domain":["CTL","D300"],"paddingInner":0,"paddingOuter":0}},"y":{"field":"v","type":"quantitative","title":null,"scale":{"type":"log","domain":[0.15,20000]},"axis":{"values":[10,1000],"labelExpr":"datum.value>=1&&datum.value<=10?datum.value+'':(datum.value>0.09&&datum.value<0.11)?'0.1':'10'+(datum.value<1?'⁻':'')+['⁰','¹','²','³','⁴','⁵','⁶'][abs(round(log(datum.value)/LN10))]","labelFontSize":9,"tickSize":3}}},
    "layer":[{"transform":[{"filter":"datum.k=='p'"}],"mark":{"type":"circle","size":90,"opacity":1,"strokeWidth":0.8},"encoding":{"xOffset":{"field":"r","type":"nominal"},"fill":{"condition":{"test":"datum.grp=='CTL'","value":"#8e8e8e"},"value":"#e8332b"},"stroke":{"condition":{"test":"datum.grp=='CTL'","value":"#555555"},"value":"#9a1b1b"}}},{"transform":[{"filter":"datum.k=='s'"}],"mark":{"type":"rule","color":"#2f5ea8","strokeWidth":1.5},"encoding":{"y":{"field":"lo","type":"quantitative","title":null},"y2":{"field":"hi"}}},{"transform":[{"filter":"datum.k=='s'"}],"mark":{"type":"circle","color":"#2f5ea8","size":16,"opacity":1}},{"transform":[{"filter":"datum.k=='t'"}],"mark":{"type":"text","dy":-9,"fontSize":13},"encoding":{"text":{"field":"s"}}}]},
   {"title":{"text":"Svs3a","offset":2},"width":30,"height":83,"transform":[{"filter":"datum.g=='Svs3a'"}],"encoding":{"x":{"field":"grp","type":"nominal","title":null,"scale":{"domain":["CTL","D300"],"paddingInner":0,"paddingOuter":0}},"y":{"field":"v","type":"quantitative","title":null,"scale":{"type":"log","domain":[0.057,1400]},"axis":{"values":[1,100],"labelExpr":"datum.value>=1&&datum.value<=10?datum.value+'':(datum.value>0.09&&datum.value<0.11)?'0.1':'10'+(datum.value<1?'⁻':'')+['⁰','¹','²','³','⁴','⁵','⁶'][abs(round(log(datum.value)/LN10))]","labelFontSize":9,"tickSize":3}}},
    "layer":[{"transform":[{"filter":"datum.k=='p'"}],"mark":{"type":"circle","size":90,"opacity":1,"strokeWidth":0.8},"encoding":{"xOffset":{"field":"r","type":"nominal"},"fill":{"condition":{"test":"datum.grp=='CTL'","value":"#8e8e8e"},"value":"#e8332b"},"stroke":{"condition":{"test":"datum.grp=='CTL'","value":"#555555"},"value":"#9a1b1b"}}},{"transform":[{"filter":"datum.k=='s'"}],"mark":{"type":"rule","color":"#2f5ea8","strokeWidth":1.5},"encoding":{"y":{"field":"lo","type":"quantitative","title":null},"y2":{"field":"hi"}}},{"transform":[{"filter":"datum.k=='s'"}],"mark":{"type":"circle","color":"#2f5ea8","size":16,"opacity":1}},{"transform":[{"filter":"datum.k=='t'"}],"mark":{"type":"text","dy":-9,"fontSize":13},"encoding":{"text":{"field":"s"}}}]},
   {"title":{"text":"Pate4","offset":2},"width":30,"height":83,"transform":[{"filter":"datum.g=='Pate4'"}],"encoding":{"x":{"field":"grp","type":"nominal","title":null,"scale":{"domain":["CTL","D300"],"paddingInner":0,"paddingOuter":0}},"y":{"field":"v","type":"quantitative","title":null,"scale":{"type":"log","domain":[1.7,39000]},"axis":{"values":[100,10000],"labelExpr":"datum.value>=1&&datum.value<=10?datum.value+'':(datum.value>0.09&&datum.value<0.11)?'0.1':'10'+(datum.value<1?'⁻':'')+['⁰','¹','²','³','⁴','⁵','⁶'][abs(round(log(datum.value)/LN10))]","labelFontSize":9,"tickSize":3}}},
    "layer":[{"transform":[{"filter":"datum.k=='p'"}],"mark":{"type":"circle","size":90,"opacity":1,"strokeWidth":0.8},"encoding":{"xOffset":{"field":"r","type":"nominal"},"fill":{"condition":{"test":"datum.grp=='CTL'","value":"#8e8e8e"},"value":"#e8332b"},"stroke":{"condition":{"test":"datum.grp=='CTL'","value":"#555555"},"value":"#9a1b1b"}}},{"transform":[{"filter":"datum.k=='s'"}],"mark":{"type":"rule","color":"#2f5ea8","strokeWidth":1.5},"encoding":{"y":{"field":"lo","type":"quantitative","title":null},"y2":{"field":"hi"}}},{"transform":[{"filter":"datum.k=='s'"}],"mark":{"type":"circle","color":"#2f5ea8","size":16,"opacity":1}},{"transform":[{"filter":"datum.k=='t'"}],"mark":{"type":"text","dy":-9,"fontSize":13},"encoding":{"text":{"field":"s"}}}]},
   {"title":{"text":"Prl2c4","offset":2},"width":30,"height":83,"transform":[{"filter":"datum.g=='Prl2c4'"}],"encoding":{"x":{"field":"grp","type":"nominal","title":null,"scale":{"domain":["CTL","D300"],"paddingInner":0,"paddingOuter":0}},"y":{"field":"v","type":"quantitative","title":null,"scale":{"type":"log","domain":[7e-6,0.17]},"axis":{"values":[0.0001,0.01],"labelExpr":"datum.value>=1&&datum.value<=10?datum.value+'':(datum.value>0.09&&datum.value<0.11)?'0.1':'10'+(datum.value<1?'⁻':'')+['⁰','¹','²','³','⁴','⁵','⁶'][abs(round(log(datum.value)/LN10))]","labelFontSize":9,"tickSize":3}}},
    "layer":[{"transform":[{"filter":"datum.k=='p'"}],"mark":{"type":"circle","size":90,"opacity":1,"strokeWidth":0.8},"encoding":{"xOffset":{"field":"r","type":"nominal"},"fill":{"condition":{"test":"datum.grp=='CTL'","value":"#8e8e8e"},"value":"#e8332b"},"stroke":{"condition":{"test":"datum.grp=='CTL'","value":"#555555"},"value":"#9a1b1b"}}},{"transform":[{"filter":"datum.k=='s'"}],"mark":{"type":"rule","color":"#2f5ea8","strokeWidth":1.5},"encoding":{"y":{"field":"lo","type":"quantitative","title":null},"y2":{"field":"hi"}}},{"transform":[{"filter":"datum.k=='s'"}],"mark":{"type":"circle","color":"#2f5ea8","size":16,"opacity":1}},{"transform":[{"filter":"datum.k=='t'"}],"mark":{"type":"text","dy":-9,"fontSize":13},"encoding":{"text":{"field":"s"}}}]},
   {"title":{"text":"V1rd18","offset":2},"width":30,"height":83,"transform":[{"filter":"datum.g=='V1rd18'"}],"encoding":{"x":{"field":"grp","type":"nominal","title":null,"scale":{"domain":["CTL","D300"],"paddingInner":0,"paddingOuter":0}},"y":{"field":"v","type":"quantitative","title":null,"scale":{"type":"log","domain":[2.4e-6,0.27]},"axis":{"values":[0.0001,0.01],"labelExpr":"datum.value>=1&&datum.value<=10?datum.value+'':(datum.value>0.09&&datum.value<0.11)?'0.1':'10'+(datum.value<1?'⁻':'')+['⁰','¹','²','³','⁴','⁵','⁶'][abs(round(log(datum.value)/LN10))]","labelFontSize":9,"tickSize":3}}},
    "layer":[{"transform":[{"filter":"datum.k=='p'"}],"mark":{"type":"circle","size":90,"opacity":1,"strokeWidth":0.8},"encoding":{"xOffset":{"field":"r","type":"nominal"},"fill":{"condition":{"test":"datum.grp=='CTL'","value":"#8e8e8e"},"value":"#e8332b"},"stroke":{"condition":{"test":"datum.grp=='CTL'","value":"#555555"},"value":"#9a1b1b"}}},{"transform":[{"filter":"datum.k=='s'"}],"mark":{"type":"rule","color":"#2f5ea8","strokeWidth":1.5},"encoding":{"y":{"field":"lo","type":"quantitative","title":null},"y2":{"field":"hi"}}},{"transform":[{"filter":"datum.k=='s'"}],"mark":{"type":"circle","color":"#2f5ea8","size":16,"opacity":1}},{"transform":[{"filter":"datum.k=='t'"}],"mark":{"type":"text","dy":-9,"fontSize":13},"encoding":{"text":{"field":"s"}}}]},
   {"title":{"text":"Gm4736","offset":2},"width":30,"height":83,"transform":[{"filter":"datum.g=='Gm4736'"}],"encoding":{"x":{"field":"grp","type":"nominal","title":null,"scale":{"domain":["CTL","D300"],"paddingInner":0,"paddingOuter":0}},"y":{"field":"v","type":"quantitative","title":null,"scale":{"type":"log","domain":[2.3e-5,0.14]},"axis":{"values":[0.001,0.1],"labelExpr":"datum.value>=1&&datum.value<=10?datum.value+'':(datum.value>0.09&&datum.value<0.11)?'0.1':'10'+(datum.value<1?'⁻':'')+['⁰','¹','²','³','⁴','⁵','⁶'][abs(round(log(datum.value)/LN10))]","labelFontSize":9,"tickSize":3}}},
    "layer":[{"transform":[{"filter":"datum.k=='p'"}],"mark":{"type":"circle","size":90,"opacity":1,"strokeWidth":0.8},"encoding":{"xOffset":{"field":"r","type":"nominal"},"fill":{"condition":{"test":"datum.grp=='CTL'","value":"#8e8e8e"},"value":"#e8332b"},"stroke":{"condition":{"test":"datum.grp=='CTL'","value":"#555555"},"value":"#9a1b1b"}}},{"transform":[{"filter":"datum.k=='s'"}],"mark":{"type":"rule","color":"#2f5ea8","strokeWidth":1.5},"encoding":{"y":{"field":"lo","type":"quantitative","title":null},"y2":{"field":"hi"}}},{"transform":[{"filter":"datum.k=='s'"}],"mark":{"type":"circle","color":"#2f5ea8","size":16,"opacity":1}},{"transform":[{"filter":"datum.k=='t'"}],"mark":{"type":"text","dy":-9,"fontSize":13},"encoding":{"text":{"field":"s"}}}]}
  ]},
  {"title":{"text":"D","anchor":"start","fontSize":32,"offset":12,"dx":-17},"data":{"name":"bars"},"bounds":"flush","spacing":26.5,"hconcat":[
   {"title":{"text":"Svs2","offset":-12},"width":48,"height":63,"transform":[{"filter":"datum.g=='Svs2'"}],"encoding":{"x":{"field":"grp","type":"nominal","title":null,"scale":{"domain":["CTL","D300"],"paddingInner":0.3,"paddingOuter":0.6}},"y":{"field":"v","type":"quantitative","title":"MBDseq reads","scale":{"domain":[0,8]},"axis":{"values":[0,2,4,6,8],"titleAnchor":"start","titlePadding":8,"titleFontSize":16}}},
    "layer":[{"mark":{"type":"bar","strokeWidth":0.6},"encoding":{"fill":{"condition":{"test":"datum.grp=='CTL'","value":"#999999"},"value":"#e8332b"},"stroke":{"condition":{"test":"datum.grp=='CTL'","value":"#707070"},"value":"#b02020"}}},{"transform":[{"filter":"datum.hi>0"}],"mark":{"type":"errorbar","ticks":{"size":5},"color":"black","thickness":1},"encoding":{"y":{"field":"lo","type":"quantitative","title":"MBDseq reads"},"y2":{"field":"hi"}}},{"transform":[{"filter":"datum.s"}],"mark":{"type":"text","dy":-8,"fontSize":13},"encoding":{"y":{"field":"hi","type":"quantitative","title":"MBDseq reads"},"text":{"field":"s"}}}]},
   {"title":{"text":"Svs3b","offset":23},"width":48,"height":63,"transform":[{"filter":"datum.g=='Svs3b'"}],"encoding":{"x":{"field":"grp","type":"nominal","title":null,"scale":{"domain":["CTL","D300"],"paddingInner":0.3,"paddingOuter":0.6}},"y":{"field":"v","type":"quantitative","title":null,"scale":{"domain":[0,6]},"axis":{"values":[0,2,4,6]}}},
    "layer":[{"mark":{"type":"bar","strokeWidth":0.6},"encoding":{"fill":{"condition":{"test":"datum.grp=='CTL'","value":"#999999"},"value":"#e8332b"},"stroke":{"condition":{"test":"datum.grp=='CTL'","value":"#707070"},"value":"#b02020"}}},{"transform":[{"filter":"datum.hi>0"}],"mark":{"type":"errorbar","ticks":{"size":5},"color":"black","thickness":1},"encoding":{"y":{"field":"lo","type":"quantitative","title":null},"y2":{"field":"hi"}}},{"transform":[{"filter":"datum.s"}],"mark":{"type":"text","dy":-8,"fontSize":13},"encoding":{"y":{"field":"hi","type":"quantitative","title":null},"text":{"field":"s"}}}]},
   {"title":{"text":"Sva","offset":27},"width":48,"height":63,"transform":[{"filter":"datum.g=='Sva'"}],"encoding":{"x":{"field":"grp","type":"nominal","title":null,"scale":{"domain":["CTL","D300"],"paddingInner":0.3,"paddingOuter":0.6}},"y":{"field":"v","type":"quantitative","title":null,"scale":{"domain":[0,2.4]},"axis":{"values":[0,1,2]}}},
    "layer":[{"mark":{"type":"bar","strokeWidth":0.6},"encoding":{"fill":{"condition":{"test":"datum.grp=='CTL'","value":"#999999"},"value":"#e8332b"},"stroke":{"condition":{"test":"datum.grp=='CTL'","value":"#707070"},"value":"#b02020"}}},{"transform":[{"filter":"datum.hi>0"}],"mark":{"type":"errorbar","ticks":{"size":5},"color":"black","thickness":1},"encoding":{"y":{"field":"lo","type":"quantitative","title":null},"y2":{"field":"hi"}}},{"transform":[{"filter":"datum.s"}],"mark":{"type":"text","dy":-8,"fontSize":13},"encoding":{"y":{"field":"hi","type":"quantitative","title":null},"text":{"field":"s"}}}]},
   {"title":{"text":"Svs4","offset":23},"width":48,"height":63,"transform":[{"filter":"datum.g=='Svs4'"}],"encoding":{"x":{"field":"grp","type":"nominal","title":null,"scale":{"domain":["CTL","D300"],"paddingInner":0.3,"paddingOuter":0.6}},"y":{"field":"v","type":"quantitative","title":null,"scale":{"domain":[0,12]},"axis":{"values":[0,4,8,12]}}},
    "layer":[{"mark":{"type":"bar","strokeWidth":0.6},"encoding":{"fill":{"condition":{"test":"datum.grp=='CTL'","value":"#999999"},"value":"#e8332b"},"stroke":{"condition":{"test":"datum.grp=='CTL'","value":"#707070"},"value":"#b02020"}}},{"transform":[{"filter":"datum.hi>0"}],"mark":{"type":"errorbar","ticks":{"size":5},"color":"black","thickness":1},"encoding":{"y":{"field":"lo","type":"quantitative","title":null},"y2":{"field":"hi"}}},{"transform":[{"filter":"datum.s"}],"mark":{"type":"text","dy":-8,"fontSize":13},"encoding":{"y":{"field":"hi","type":"quantitative","title":null},"text":{"field":"s"}}}]},
   {"title":{"text":"Svs6","offset":23},"width":48,"height":63,"transform":[{"filter":"datum.g=='Svs6'"}],"encoding":{"x":{"field":"grp","type":"nominal","title":null,"scale":{"domain":["CTL","D300"],"paddingInner":0.3,"paddingOuter":0.6}},"y":{"field":"v","type":"quantitative","title":null,"scale":{"domain":[0,3]},"axis":{"values":[0,1,2,3]}}},
    "layer":[{"mark":{"type":"bar","strokeWidth":0.6},"encoding":{"fill":{"condition":{"test":"datum.grp=='CTL'","value":"#999999"},"value":"#e8332b"},"stroke":{"condition":{"test":"datum.grp=='CTL'","value":"#707070"},"value":"#b02020"}}},{"transform":[{"filter":"datum.hi>0"}],"mark":{"type":"errorbar","ticks":{"size":5},"color":"black","thickness":1},"encoding":{"y":{"field":"lo","type":"quantitative","title":null},"y2":{"field":"hi"}}},{"transform":[{"filter":"datum.s"}],"mark":{"type":"text","dy":-8,"fontSize":13},"encoding":{"y":{"field":"hi","type":"quantitative","title":null},"text":{"field":"s"}}}]},
   {"title":{"text":"Svs3a","offset":23},"width":48,"height":63,"transform":[{"filter":"datum.g=='Svs3a'"}],"encoding":{"x":{"field":"grp","type":"nominal","title":null,"scale":{"domain":["CTL","D300"],"paddingInner":0.3,"paddingOuter":0.6}},"y":{"field":"v","type":"quantitative","title":null,"scale":{"domain":[0,5]},"axis":{"values":[0,1,2,3,4,5],"labelFontSize":11}}},
    "layer":[{"mark":{"type":"bar","strokeWidth":0.6},"encoding":{"fill":{"condition":{"test":"datum.grp=='CTL'","value":"#999999"},"value":"#e8332b"},"stroke":{"condition":{"test":"datum.grp=='CTL'","value":"#707070"},"value":"#b02020"}}},{"transform":[{"filter":"datum.hi>0"}],"mark":{"type":"errorbar","ticks":{"size":5},"color":"black","thickness":1},"encoding":{"y":{"field":"lo","type":"quantitative","title":null},"y2":{"field":"hi"}}},{"transform":[{"filter":"datum.s"}],"mark":{"type":"text","dy":-8,"fontSize":13},"encoding":{"y":{"field":"hi","type":"quantitative","title":null},"text":{"field":"s"}}}]},
   {"title":{"text":"Pate4","offset":27},"width":48,"height":63,"transform":[{"filter":"datum.g=='Pate4'"}],"encoding":{"x":{"field":"grp","type":"nominal","title":null,"scale":{"domain":["CTL","D300"],"paddingInner":0.3,"paddingOuter":0.6}},"y":{"field":"v","type":"quantitative","title":null,"scale":{"domain":[0,4.3]},"axis":{"values":[0,1,2,3,4],"labelFontSize":13}}},
    "layer":[{"mark":{"type":"bar","strokeWidth":0.6},"encoding":{"fill":{"condition":{"test":"datum.grp=='CTL'","value":"#999999"},"value":"#e8332b"},"stroke":{"condition":{"test":"datum.grp=='CTL'","value":"#707070"},"value":"#b02020"}}},{"transform":[{"filter":"datum.hi>0"}],"mark":{"type":"errorbar","ticks":{"size":5},"color":"black","thickness":1},"encoding":{"y":{"field":"lo","type":"quantitative","title":null},"y2":{"field":"hi"}}},{"transform":[{"filter":"datum.s"}],"mark":{"type":"text","dy":-8,"fontSize":13},"encoding":{"y":{"field":"hi","type":"quantitative","title":null},"text":{"field":"s"}}}]},
   {"title":{"text":"Prl2c4","offset":23},"width":48,"height":63,"transform":[{"filter":"datum.g=='Prl2c4'"}],"encoding":{"x":{"field":"grp","type":"nominal","title":null,"scale":{"domain":["CTL","D300"],"paddingInner":0.3,"paddingOuter":0.6}},"y":{"field":"v","type":"quantitative","title":null,"scale":{"domain":[0,1]},"axis":{"values":[0,1],"format":"d"}}},
    "layer":[{"mark":{"type":"bar","strokeWidth":0.6},"encoding":{"fill":{"condition":{"test":"datum.grp=='CTL'","value":"#999999"},"value":"#e8332b"},"stroke":{"condition":{"test":"datum.grp=='CTL'","value":"#707070"},"value":"#b02020"}}},{"transform":[{"filter":"datum.hi>0"}],"mark":{"type":"errorbar","ticks":{"size":5},"color":"black","thickness":1},"encoding":{"y":{"field":"lo","type":"quantitative","title":null},"y2":{"field":"hi"}}},{"transform":[{"filter":"datum.s"}],"mark":{"type":"text","dy":-6,"fontSize":10},"encoding":{"y":{"field":"hi","type":"quantitative","title":null},"text":{"field":"s"}}}]},
   {"title":{"text":"V1rd18","offset":22},"width":48,"height":63,"transform":[{"filter":"datum.g=='V1rd18'"}],"encoding":{"x":{"field":"grp","type":"nominal","title":null,"scale":{"domain":["CTL","D300"],"paddingInner":0.3,"paddingOuter":0.6}},"y":{"field":"v","type":"quantitative","title":null,"scale":{"domain":[0,6]},"axis":{"values":[0,2,4,6]}}},
    "layer":[{"mark":{"type":"bar","strokeWidth":0.6},"encoding":{"fill":{"condition":{"test":"datum.grp=='CTL'","value":"#999999"},"value":"#e8332b"},"stroke":{"condition":{"test":"datum.grp=='CTL'","value":"#707070"},"value":"#b02020"}}},{"transform":[{"filter":"datum.hi>0"}],"mark":{"type":"errorbar","ticks":{"size":5},"color":"black","thickness":1},"encoding":{"y":{"field":"lo","type":"quantitative","title":null},"y2":{"field":"hi"}}},{"transform":[{"filter":"datum.s"}],"mark":{"type":"text","dy":-8,"fontSize":13},"encoding":{"y":{"field":"hi","type":"quantitative","title":null},"text":{"field":"s"}}}]},
   {"title":{"text":"Gm4736","offset":23},"width":48,"height":63,"transform":[{"filter":"datum.g=='Gm4736'"}],"encoding":{"x":{"field":"grp","type":"nominal","title":null,"scale":{"domain":["CTL","D300"],"paddingInner":0.3,"paddingOuter":0.6}},"y":{"field":"v","type":"quantitative","title":null,"scale":{"domain":[0,3]},"axis":{"values":[0,1,2,3]}}},
    "layer":[{"mark":{"type":"bar","strokeWidth":0.6},"encoding":{"fill":{"condition":{"test":"datum.grp=='CTL'","value":"#999999"},"value":"#e8332b"},"stroke":{"condition":{"test":"datum.grp=='CTL'","value":"#707070"},"value":"#b02020"}}},{"transform":[{"filter":"datum.hi>0"}],"mark":{"type":"errorbar","ticks":{"size":5},"color":"black","thickness":1},"encoding":{"y":{"field":"lo","type":"quantitative","title":null},"y2":{"field":"hi"}}},{"transform":[{"filter":"datum.s"}],"mark":{"type":"text","dy":-8,"fontSize":13},"encoding":{"y":{"field":"hi","type":"quantitative","title":null},"text":{"field":"s"}}}]}
  ]}
 ]},
 {"columns":1,"align":"none","spacing":0,"resolve":{"scale":{"xOffset":"independent"}},"concat":[
  {"title":{"text":"E","anchor":"start","fontSize":32,"offset":-9,"dx":-21},"data":{"name":"dots"},"bounds":"flush","spacing":39.5,"resolve":{"scale":{"xOffset":"independent"}},"hconcat":[
   {"title":{"text":["Gm6329"," "],"offset":0,"lineHeight":20},"width":36,"height":85,"transform":[{"filter":"datum.g=='Gm6329'"}],"encoding":{"x":{"field":"grp","type":"nominal","title":null,"scale":{"domain":["CTL","D300"],"paddingInner":0,"paddingOuter":0}},"y":{"field":"v","type":"quantitative","title":"FPKM","scale":{"type":"log","domain":[0.08,10]},"axis":{"values":[0.1],"labelExpr":"datum.value>=1&&datum.value<=10?datum.value+'':(datum.value>0.09&&datum.value<0.11)?'0.1':'10'+(datum.value<1?'⁻':'')+['⁰','¹','²','³','⁴','⁵','⁶'][abs(round(log(datum.value)/LN10))]","labelFontSize":9,"tickSize":3,"titleFontSize":14,"titlePadding":5,"titleAnchor":"end"}}},
    "layer":[{"transform":[{"filter":"datum.k=='p'"}],"mark":{"type":"circle","size":90,"opacity":1,"strokeWidth":0.8},"encoding":{"xOffset":{"field":"r","type":"nominal"},"fill":{"condition":{"test":"datum.grp=='CTL'","value":"#8e8e8e"},"value":"#e8332b"},"stroke":{"condition":{"test":"datum.grp=='CTL'","value":"#555555"},"value":"#9a1b1b"}}},{"transform":[{"filter":"datum.k=='s'"}],"mark":{"type":"rule","color":"#2f5ea8","strokeWidth":1.5},"encoding":{"y":{"field":"lo","type":"quantitative","title":"FPKM"},"y2":{"field":"hi"}}},{"transform":[{"filter":"datum.k=='s'"}],"mark":{"type":"circle","color":"#2f5ea8","size":16,"opacity":1}},{"transform":[{"filter":"datum.k=='t'"}],"mark":{"type":"text","dy":-9,"fontSize":13},"encoding":{"text":{"field":"s"}}}]},
   {"title":{"text":["Gm8994"," "],"offset":0,"lineHeight":20},"width":36,"height":85,"transform":[{"filter":"datum.g=='Gm8994'"}],"encoding":{"x":{"field":"grp","type":"nominal","title":null,"scale":{"domain":["CTL","D300"],"paddingInner":0,"paddingOuter":0}},"y":{"field":"v","type":"quantitative","title":null,"scale":{"type":"log","domain":[0.014,1.9]},"axis":{"values":[0.1],"labelExpr":"datum.value>=1&&datum.value<=10?datum.value+'':(datum.value>0.09&&datum.value<0.11)?'0.1':'10'+(datum.value<1?'⁻':'')+['⁰','¹','²','³','⁴','⁵','⁶'][abs(round(log(datum.value)/LN10))]","labelFontSize":9,"tickSize":3}}},
    "layer":[{"transform":[{"filter":"datum.k=='p'"}],"mark":{"type":"circle","size":90,"opacity":1,"strokeWidth":0.8},"encoding":{"xOffset":{"field":"r","type":"nominal"},"fill":{"condition":{"test":"datum.grp=='CTL'","value":"#8e8e8e"},"value":"#e8332b"},"stroke":{"condition":{"test":"datum.grp=='CTL'","value":"#555555"},"value":"#9a1b1b"}}},{"transform":[{"filter":"datum.k=='s'"}],"mark":{"type":"rule","color":"#2f5ea8","strokeWidth":1.5},"encoding":{"y":{"field":"lo","type":"quantitative","title":null},"y2":{"field":"hi"}}},{"transform":[{"filter":"datum.k=='s'"}],"mark":{"type":"circle","color":"#2f5ea8","size":16,"opacity":1}},{"transform":[{"filter":"datum.k=='t'"}],"mark":{"type":"text","dy":-9,"fontSize":13},"encoding":{"text":{"field":"s"}}}]},
   {"title":{"text":["Gzmk"," "],"offset":0,"lineHeight":20},"width":36,"height":85,"transform":[{"filter":"datum.g=='Gzmk'"}],"encoding":{"x":{"field":"grp","type":"nominal","title":null,"scale":{"domain":["CTL","D300"],"paddingInner":0,"paddingOuter":0}},"y":{"field":"v","type":"quantitative","title":null,"scale":{"type":"log","domain":[0.095,13]},"axis":{"values":[0.1],"labelExpr":"datum.value>=1&&datum.value<=10?datum.value+'':(datum.value>0.09&&datum.value<0.11)?'0.1':'10'+(datum.value<1?'⁻':'')+['⁰','¹','²','³','⁴','⁵','⁶'][abs(round(log(datum.value)/LN10))]","labelFontSize":9,"tickSize":3}}},
    "layer":[{"transform":[{"filter":"datum.k=='p'"}],"mark":{"type":"circle","size":90,"opacity":1,"strokeWidth":0.8},"encoding":{"xOffset":{"field":"r","type":"nominal"},"fill":{"condition":{"test":"datum.grp=='CTL'","value":"#8e8e8e"},"value":"#e8332b"},"stroke":{"condition":{"test":"datum.grp=='CTL'","value":"#555555"},"value":"#9a1b1b"}}},{"transform":[{"filter":"datum.k=='s'"}],"mark":{"type":"rule","color":"#2f5ea8","strokeWidth":1.5},"encoding":{"y":{"field":"lo","type":"quantitative","title":null},"y2":{"field":"hi"}}},{"transform":[{"filter":"datum.k=='s'"}],"mark":{"type":"circle","color":"#2f5ea8","size":16,"opacity":1}},{"transform":[{"filter":"datum.k=='t'"}],"mark":{"type":"text","dy":-9,"fontSize":13},"encoding":{"text":{"field":"s"}}}]},
   {"title":{"text":["C1qtnf5"," "],"offset":0,"lineHeight":20},"width":36,"height":85,"transform":[{"filter":"datum.g=='C1qtnf5'"}],"encoding":{"x":{"field":"grp","type":"nominal","title":null,"scale":{"domain":["CTL","D300"],"paddingInner":0,"paddingOuter":0}},"y":{"field":"v","type":"quantitative","title":null,"scale":{"type":"log","domain":[0.027,3.5]},"axis":{"values":[1],"labelExpr":"datum.value>=1&&datum.value<=10?datum.value+'':(datum.value>0.09&&datum.value<0.11)?'0.1':'10'+(datum.value<1?'⁻':'')+['⁰','¹','²','³','⁴','⁵','⁶'][abs(round(log(datum.value)/LN10))]","labelFontSize":9,"tickSize":3}}},
    "layer":[{"transform":[{"filter":"datum.k=='p'"}],"mark":{"type":"circle","size":90,"opacity":1,"strokeWidth":0.8},"encoding":{"xOffset":{"field":"r","type":"nominal"},"fill":{"condition":{"test":"datum.grp=='CTL'","value":"#8e8e8e"},"value":"#e8332b"},"stroke":{"condition":{"test":"datum.grp=='CTL'","value":"#555555"},"value":"#9a1b1b"}}},{"transform":[{"filter":"datum.k=='s'"}],"mark":{"type":"rule","color":"#2f5ea8","strokeWidth":1.5},"encoding":{"y":{"field":"lo","type":"quantitative","title":null},"y2":{"field":"hi"}}},{"transform":[{"filter":"datum.k=='s'"}],"mark":{"type":"circle","color":"#2f5ea8","size":16,"opacity":1}},{"transform":[{"filter":"datum.k=='t'"}],"mark":{"type":"text","dy":-9,"fontSize":13},"encoding":{"text":{"field":"s"}}}]},
   {"title":{"text":["Fbxw15"," "],"offset":0,"lineHeight":20},"width":36,"height":85,"transform":[{"filter":"datum.g=='Fbxw15'"}],"encoding":{"x":{"field":"grp","type":"nominal","title":null,"scale":{"domain":["CTL","D300"],"paddingInner":0,"paddingOuter":0}},"y":{"field":"v","type":"quantitative","title":null,"scale":{"type":"log","domain":[0.018,2.4]},"axis":{"values":[0.1],"labelExpr":"datum.value>=1&&datum.value<=10?datum.value+'':(datum.value>0.09&&datum.value<0.11)?'0.1':'10'+(datum.value<1?'⁻':'')+['⁰','¹','²','³','⁴','⁵','⁶'][abs(round(log(datum.value)/LN10))]","labelFontSize":9,"tickSize":3}}},
    "layer":[{"transform":[{"filter":"datum.k=='p'"}],"mark":{"type":"circle","size":90,"opacity":1,"strokeWidth":0.8},"encoding":{"xOffset":{"field":"r","type":"nominal"},"fill":{"condition":{"test":"datum.grp=='CTL'","value":"#8e8e8e"},"value":"#e8332b"},"stroke":{"condition":{"test":"datum.grp=='CTL'","value":"#555555"},"value":"#9a1b1b"}}},{"transform":[{"filter":"datum.k=='s'"}],"mark":{"type":"rule","color":"#2f5ea8","strokeWidth":1.5},"encoding":{"y":{"field":"lo","type":"quantitative","title":null},"y2":{"field":"hi"}}},{"transform":[{"filter":"datum.k=='s'"}],"mark":{"type":"circle","color":"#2f5ea8","size":16,"opacity":1}},{"transform":[{"filter":"datum.k=='t'"}],"mark":{"type":"text","dy":-9,"fontSize":13},"encoding":{"text":{"field":"s"}}}]},
   {"title":{"text":["mir615"," "],"offset":0,"lineHeight":20},"width":36,"height":85,"transform":[{"filter":"datum.g=='mir615'"}],"encoding":{"x":{"field":"grp","type":"nominal","title":null,"scale":{"domain":["CTL","D300"],"paddingInner":0,"paddingOuter":0}},"y":{"field":"v","type":"quantitative","title":null,"scale":{"type":"log","domain":[3.2,420]},"axis":{"values":[100],"labelExpr":"datum.value>=1&&datum.value<=10?datum.value+'':(datum.value>0.09&&datum.value<0.11)?'0.1':'10'+(datum.value<1?'⁻':'')+['⁰','¹','²','³','⁴','⁵','⁶'][abs(round(log(datum.value)/LN10))]","labelFontSize":9,"tickSize":3}}},
    "layer":[{"transform":[{"filter":"datum.k=='p'"}],"mark":{"type":"circle","size":90,"opacity":1,"strokeWidth":0.8},"encoding":{"xOffset":{"field":"r","type":"nominal"},"fill":{"condition":{"test":"datum.grp=='CTL'","value":"#8e8e8e"},"value":"#e8332b"},"stroke":{"condition":{"test":"datum.grp=='CTL'","value":"#555555"},"value":"#9a1b1b"}}},{"transform":[{"filter":"datum.k=='s'"}],"mark":{"type":"rule","color":"#2f5ea8","strokeWidth":1.5},"encoding":{"y":{"field":"lo","type":"quantitative","title":null},"y2":{"field":"hi"}}},{"transform":[{"filter":"datum.k=='s'"}],"mark":{"type":"circle","color":"#2f5ea8","size":16,"opacity":1}},{"transform":[{"filter":"datum.k=='t'"}],"mark":{"type":"text","dy":-9,"fontSize":13},"encoding":{"text":{"field":"s"}}}]},
   {"title":{"text":["Ffar3"," "],"offset":15,"lineHeight":20},"width":36,"height":85,"transform":[{"filter":"datum.g=='Ffar3'"}],"encoding":{"x":{"field":"grp","type":"nominal","title":null,"scale":{"domain":["CTL","D300"],"paddingInner":0,"paddingOuter":0}},"y":{"field":"v","type":"quantitative","title":null,"scale":{"type":"log","domain":[0.01,1.2]},"axis":{"values":[],"labelFontSize":9,"tickSize":3}}},
    "layer":[{"transform":[{"filter":"datum.k=='p'"}],"mark":{"type":"circle","size":90,"opacity":1,"strokeWidth":0.8},"encoding":{"xOffset":{"field":"r","type":"nominal"},"fill":{"condition":{"test":"datum.grp=='CTL'","value":"#8e8e8e"},"value":"#e8332b"},"stroke":{"condition":{"test":"datum.grp=='CTL'","value":"#555555"},"value":"#9a1b1b"}}},{"transform":[{"filter":"datum.k=='s'"}],"mark":{"type":"rule","color":"#2f5ea8","strokeWidth":1.5},"encoding":{"y":{"field":"lo","type":"quantitative","title":null},"y2":{"field":"hi"}}},{"transform":[{"filter":"datum.k=='s'"}],"mark":{"type":"circle","color":"#2f5ea8","size":16,"opacity":1}}]},
   {"title":{"text":["Rbp2"," "],"offset":15,"lineHeight":20},"width":36,"height":85,"transform":[{"filter":"datum.g=='Rbp2'"}],"encoding":{"x":{"field":"grp","type":"nominal","title":null,"scale":{"domain":["CTL","D300"],"paddingInner":0,"paddingOuter":0}},"y":{"field":"v","type":"quantitative","title":null,"scale":{"type":"log","domain":[19,5200]},"axis":{"values":[100,1000],"labelExpr":"datum.value>=1&&datum.value<=10?datum.value+'':(datum.value>0.09&&datum.value<0.11)?'0.1':'10'+(datum.value<1?'⁻':'')+['⁰','¹','²','³','⁴','⁵','⁶'][abs(round(log(datum.value)/LN10))]","labelFontSize":9,"tickSize":3}}},
    "layer":[{"transform":[{"filter":"datum.k=='p'"}],"mark":{"type":"circle","size":90,"opacity":1,"strokeWidth":0.8},"encoding":{"xOffset":{"field":"r","type":"nominal"},"fill":{"condition":{"test":"datum.grp=='CTL'","value":"#8e8e8e"},"value":"#e8332b"},"stroke":{"condition":{"test":"datum.grp=='CTL'","value":"#555555"},"value":"#9a1b1b"}}},{"transform":[{"filter":"datum.k=='s'"}],"mark":{"type":"rule","color":"#2f5ea8","strokeWidth":1.5},"encoding":{"y":{"field":"lo","type":"quantitative","title":null},"y2":{"field":"hi"}}},{"transform":[{"filter":"datum.k=='s'"}],"mark":{"type":"circle","color":"#2f5ea8","size":16,"opacity":1}},{"transform":[{"filter":"datum.k=='t'"}],"mark":{"type":"text","dy":-9,"fontSize":13},"encoding":{"text":{"field":"s"}}}]},
   {"title":{"text":["2310002-","L09Rik"],"offset":0,"lineHeight":20},"width":36,"height":85,"transform":[{"filter":"datum.g=='2310002L09Rik'"}],"encoding":{"x":{"field":"grp","type":"nominal","title":null,"scale":{"domain":["CTL","D300"],"paddingInner":0,"paddingOuter":0}},"y":{"field":"v","type":"quantitative","title":null,"scale":{"type":"log","domain":[0.05,2.5]},"axis":{"values":[0.1,1],"labelExpr":"datum.value>=1&&datum.value<=10?datum.value+'':(datum.value>0.09&&datum.value<0.11)?'0.1':'10'+(datum.value<1?'⁻':'')+['⁰','¹','²','³','⁴','⁵','⁶'][abs(round(log(datum.value)/LN10))]","labelFontSize":9,"tickSize":3}}},
    "layer":[{"transform":[{"filter":"datum.k=='p'"}],"mark":{"type":"circle","size":90,"opacity":1,"strokeWidth":0.8},"encoding":{"xOffset":{"field":"r","type":"nominal"},"fill":{"condition":{"test":"datum.grp=='CTL'","value":"#8e8e8e"},"value":"#e8332b"},"stroke":{"condition":{"test":"datum.grp=='CTL'","value":"#555555"},"value":"#9a1b1b"}}},{"transform":[{"filter":"datum.k=='s'"}],"mark":{"type":"rule","color":"#2f5ea8","strokeWidth":1.5},"encoding":{"y":{"field":"lo","type":"quantitative","title":null},"y2":{"field":"hi"}}},{"transform":[{"filter":"datum.k=='s'"}],"mark":{"type":"circle","color":"#2f5ea8","size":16,"opacity":1}},{"transform":[{"filter":"datum.k=='t'"}],"mark":{"type":"text","dy":-9,"fontSize":13},"encoding":{"text":{"field":"s"}}}]},
   {"title":{"text":["1700044-","K03Rik"],"offset":0,"lineHeight":20},"width":36,"height":85,"transform":[{"filter":"datum.g=='1700044K03Rik'"}],"encoding":{"x":{"field":"grp","type":"nominal","title":null,"scale":{"domain":["CTL","D300"],"paddingInner":0,"paddingOuter":0}},"y":{"field":"v","type":"quantitative","title":null,"scale":{"type":"log","domain":[0.075,10]},"axis":{"values":[1],"labelExpr":"datum.value>=1&&datum.value<=10?datum.value+'':(datum.value>0.09&&datum.value<0.11)?'0.1':'10'+(datum.value<1?'⁻':'')+['⁰','¹','²','³','⁴','⁵','⁶'][abs(round(log(datum.value)/LN10))]","labelFontSize":9,"tickSize":3}}},
    "layer":[{"transform":[{"filter":"datum.k=='p'"}],"mark":{"type":"circle","size":90,"opacity":1,"strokeWidth":0.8},"encoding":{"xOffset":{"field":"r","type":"nominal"},"fill":{"condition":{"test":"datum.grp=='CTL'","value":"#8e8e8e"},"value":"#e8332b"},"stroke":{"condition":{"test":"datum.grp=='CTL'","value":"#555555"},"value":"#9a1b1b"}}},{"transform":[{"filter":"datum.k=='s'"}],"mark":{"type":"rule","color":"#2f5ea8","strokeWidth":1.5},"encoding":{"y":{"field":"lo","type":"quantitative","title":null},"y2":{"field":"hi"}}},{"transform":[{"filter":"datum.k=='s'"}],"mark":{"type":"circle","color":"#2f5ea8","size":16,"opacity":1}},{"transform":[{"filter":"datum.k=='t'"}],"mark":{"type":"text","dy":-9,"fontSize":13},"encoding":{"text":{"field":"s"}}}]}
  ]},
  {"title":{"text":"F","anchor":"start","fontSize":32,"offset":6,"dx":-12},"data":{"name":"bars"},"bounds":"flush","spacing":31,"hconcat":[
   {"title":{"text":["Gm6329"," "],"offset":-38,"lineHeight":27},"width":44,"height":58,"transform":[{"filter":"datum.g=='Gm6329'"}],"encoding":{"x":{"field":"grp","type":"nominal","title":null,"scale":{"domain":["CTL","D300"],"paddingInner":0.33,"paddingOuter":0.35}},"y":{"field":"v","type":"quantitative","title":"MBDseq reads","scale":{"domain":[0,30]},"axis":{"values":[0,10,20,30],"titleAnchor":"start","titlePadding":4,"titleFontSize":16}}},
    "layer":[{"mark":{"type":"bar","strokeWidth":0.6},"encoding":{"fill":{"condition":{"test":"datum.grp=='CTL'","value":"#a6a6a6"},"value":"#e8332b"},"stroke":{"condition":{"test":"datum.grp=='CTL'","value":"#808080"},"value":"#b02020"}}},{"transform":[{"filter":"datum.hi>0"}],"mark":{"type":"errorbar","ticks":{"size":5},"color":"black","thickness":1},"encoding":{"y":{"field":"lo","type":"quantitative","title":"MBDseq reads"},"y2":{"field":"hi"}}},{"transform":[{"filter":"datum.s"}],"mark":{"type":"text","dy":-8,"fontSize":13},"encoding":{"y":{"field":"hi","type":"quantitative","title":"MBDseq reads"},"text":{"field":"s"}}}]},
   {"title":{"text":["Gm8994"," "],"offset":2,"lineHeight":27},"width":44,"height":58,"transform":[{"filter":"datum.g=='Gm8994'"}],"encoding":{"x":{"field":"grp","type":"nominal","title":null,"scale":{"domain":["CTL","D300"],"paddingInner":0.33,"paddingOuter":0.35}},"y":{"field":"v","type":"quantitative","title":null,"scale":{"domain":[0,12]},"axis":{"values":[0,4,8,12]}}},
    "layer":[{"mark":{"type":"bar","strokeWidth":0.6},"encoding":{"fill":{"condition":{"test":"datum.grp=='CTL'","value":"#a6a6a6"},"value":"#e8332b"},"stroke":{"condition":{"test":"datum.grp=='CTL'","value":"#808080"},"value":"#b02020"}}},{"transform":[{"filter":"datum.hi>0"}],"mark":{"type":"errorbar","ticks":{"size":5},"color":"black","thickness":1},"encoding":{"y":{"field":"lo","type":"quantitative","title":null},"y2":{"field":"hi"}}},{"transform":[{"filter":"datum.s"}],"mark":{"type":"text","dy":-8,"fontSize":13},"encoding":{"y":{"field":"hi","type":"quantitative","title":null},"text":{"field":"s"}}}]},
   {"title":{"text":["Gzmk"," "],"offset":2,"lineHeight":27},"width":44,"height":58,"transform":[{"filter":"datum.g=='Gzmk'"}],"encoding":{"x":{"field":"grp","type":"nominal","title":null,"scale":{"domain":["CTL","D300"],"paddingInner":0.33,"paddingOuter":0.35}},"y":{"field":"v","type":"quantitative","title":null,"scale":{"domain":[0,60]},"axis":{"values":[0,20,40,60]}}},
    "layer":[{"mark":{"type":"bar","strokeWidth":0.6},"encoding":{"fill":{"condition":{"test":"datum.grp=='CTL'","value":"#a6a6a6"},"value":"#e8332b"},"stroke":{"condition":{"test":"datum.grp=='CTL'","value":"#808080"},"value":"#b02020"}}},{"transform":[{"filter":"datum.hi>0"}],"mark":{"type":"errorbar","ticks":{"size":5},"color":"black","thickness":1},"encoding":{"y":{"field":"lo","type":"quantitative","title":null},"y2":{"field":"hi"}}},{"transform":[{"filter":"datum.s"}],"mark":{"type":"text","dy":-8,"fontSize":13},"encoding":{"y":{"field":"hi","type":"quantitative","title":null},"text":{"field":"s"}}}]},
   {"title":{"text":["C1qtnf5"," "],"offset":2,"lineHeight":27},"width":44,"height":58,"transform":[{"filter":"datum.g=='C1qtnf5'"}],"encoding":{"x":{"field":"grp","type":"nominal","title":null,"scale":{"domain":["CTL","D300"],"paddingInner":0.33,"paddingOuter":0.35}},"y":{"field":"v","type":"quantitative","title":null,"scale":{"domain":[0,60]},"axis":{"values":[0,20,40,60]}}},
    "layer":[{"mark":{"type":"bar","strokeWidth":0.6},"encoding":{"fill":{"condition":{"test":"datum.grp=='CTL'","value":"#a6a6a6"},"value":"#e8332b"},"stroke":{"condition":{"test":"datum.grp=='CTL'","value":"#808080"},"value":"#b02020"}}},{"transform":[{"filter":"datum.hi>0"}],"mark":{"type":"errorbar","ticks":{"size":5},"color":"black","thickness":1},"encoding":{"y":{"field":"lo","type":"quantitative","title":null},"y2":{"field":"hi"}}},{"transform":[{"filter":"datum.s"}],"mark":{"type":"text","dy":-8,"fontSize":13},"encoding":{"y":{"field":"hi","type":"quantitative","title":null},"text":{"field":"s"}}}]},
   {"title":{"text":["Fbxw15"," "],"offset":4,"lineHeight":27},"width":44,"height":58,"transform":[{"filter":"datum.g=='Fbxw15'"}],"encoding":{"x":{"field":"grp","type":"nominal","title":null,"scale":{"domain":["CTL","D300"],"paddingInner":0.33,"paddingOuter":0.35}},"y":{"field":"v","type":"quantitative","title":null,"scale":{"domain":[0,8]},"axis":{"values":[0,2,4,6,8],"labelFontSize":12}}},
    "layer":[{"mark":{"type":"bar","strokeWidth":0.6},"encoding":{"fill":{"condition":{"test":"datum.grp=='CTL'","value":"#a6a6a6"},"value":"#e8332b"},"stroke":{"condition":{"test":"datum.grp=='CTL'","value":"#808080"},"value":"#b02020"}}},{"transform":[{"filter":"datum.hi>0"}],"mark":{"type":"errorbar","ticks":{"size":5},"color":"black","thickness":1},"encoding":{"y":{"field":"lo","type":"quantitative","title":null},"y2":{"field":"hi"}}},{"transform":[{"filter":"datum.s"}],"mark":{"type":"text","dy":-8,"fontSize":13},"encoding":{"y":{"field":"hi","type":"quantitative","title":null},"text":{"field":"s"}}}]},
   {"title":{"text":["mir615"," "],"offset":10,"lineHeight":27},"width":44,"height":58,"transform":[{"filter":"datum.g=='mir615'"}],"encoding":{"x":{"field":"grp","type":"nominal","title":null,"scale":{"domain":["CTL","D300"],"paddingInner":0.33,"paddingOuter":0.35}},"y":{"field":"v","type":"quantitative","title":null,"scale":{"domain":[0,1]},"axis":{"values":[0,0.4,0.8],"format":"~g"}}},
    "layer":[{"mark":{"type":"bar","strokeWidth":0.6},"encoding":{"fill":{"condition":{"test":"datum.grp=='CTL'","value":"#a6a6a6"},"value":"#e8332b"},"stroke":{"condition":{"test":"datum.grp=='CTL'","value":"#808080"},"value":"#b02020"}}},{"transform":[{"filter":"datum.hi>0"}],"mark":{"type":"errorbar","ticks":{"size":5},"color":"black","thickness":1},"encoding":{"y":{"field":"lo","type":"quantitative","title":null},"y2":{"field":"hi"}}},{"transform":[{"filter":"datum.s"}],"mark":{"type":"text","dy":-6,"fontSize":10},"encoding":{"y":{"field":"hi","type":"quantitative","title":null},"text":{"field":"s"}}}]},
   {"title":{"text":["Ffar3"," "],"offset":2,"lineHeight":27},"width":44,"height":58,"transform":[{"filter":"datum.g=='Ffar3'"}],"encoding":{"x":{"field":"grp","type":"nominal","title":null,"scale":{"domain":["CTL","D300"],"paddingInner":0.33,"paddingOuter":0.35}},"y":{"field":"v","type":"quantitative","title":null,"scale":{"domain":[0,30]},"axis":{"values":[0,10,20,30]}}},
    "layer":[{"mark":{"type":"bar","strokeWidth":0.6},"encoding":{"fill":{"condition":{"test":"datum.grp=='CTL'","value":"#a6a6a6"},"value":"#e8332b"},"stroke":{"condition":{"test":"datum.grp=='CTL'","value":"#808080"},"value":"#b02020"}}},{"transform":[{"filter":"datum.hi>0"}],"mark":{"type":"errorbar","ticks":{"size":5},"color":"black","thickness":1},"encoding":{"y":{"field":"lo","type":"quantitative","title":null},"y2":{"field":"hi"}}},{"transform":[{"filter":"datum.s"}],"mark":{"type":"text","dy":-8,"fontSize":13},"encoding":{"y":{"field":"hi","type":"quantitative","title":null},"text":{"field":"s"}}}]},
   {"title":{"text":["Rbp2"," "],"offset":2,"lineHeight":27},"width":44,"height":58,"transform":[{"filter":"datum.g=='Rbp2'"}],"encoding":{"x":{"field":"grp","type":"nominal","title":null,"scale":{"domain":["CTL","D300"],"paddingInner":0.33,"paddingOuter":0.35}},"y":{"field":"v","type":"quantitative","title":null,"scale":{"domain":[0,12]},"axis":{"values":[0,4,8,12]}}},
    "layer":[{"mark":{"type":"bar","strokeWidth":0.6},"encoding":{"fill":{"condition":{"test":"datum.grp=='CTL'","value":"#a6a6a6"},"value":"#e8332b"},"stroke":{"condition":{"test":"datum.grp=='CTL'","value":"#808080"},"value":"#b02020"}}},{"transform":[{"filter":"datum.hi>0"}],"mark":{"type":"errorbar","ticks":{"size":5},"color":"black","thickness":1},"encoding":{"y":{"field":"lo","type":"quantitative","title":null},"y2":{"field":"hi"}}},{"transform":[{"filter":"datum.s"}],"mark":{"type":"text","dy":-8,"fontSize":13},"encoding":{"y":{"field":"hi","type":"quantitative","title":null},"text":{"field":"s"}}}]},
   {"title":{"text":["2310002-","L09Rik"],"offset":4,"lineHeight":27},"width":44,"height":58,"transform":[{"filter":"datum.g=='2310002L09Rik'"}],"encoding":{"x":{"field":"grp","type":"nominal","title":null,"scale":{"domain":["CTL","D300"],"paddingInner":0.33,"paddingOuter":0.35}},"y":{"field":"v","type":"quantitative","title":null,"scale":{"domain":[0,8]},"axis":{"values":[0,2,4,6,8],"labelFontSize":12}}},
    "layer":[{"mark":{"type":"bar","strokeWidth":0.6},"encoding":{"fill":{"condition":{"test":"datum.grp=='CTL'","value":"#a6a6a6"},"value":"#e8332b"},"stroke":{"condition":{"test":"datum.grp=='CTL'","value":"#808080"},"value":"#b02020"}}},{"transform":[{"filter":"datum.hi>0"}],"mark":{"type":"errorbar","ticks":{"size":5},"color":"black","thickness":1},"encoding":{"y":{"field":"lo","type":"quantitative","title":null},"y2":{"field":"hi"}}},{"transform":[{"filter":"datum.s"}],"mark":{"type":"text","dy":-8,"fontSize":13},"encoding":{"y":{"field":"hi","type":"quantitative","title":null},"text":{"field":"s"}}}]},
   {"title":{"text":["1700044-","K03Rik"],"offset":10,"lineHeight":27},"width":44,"height":58,"transform":[{"filter":"datum.g=='1700044K03Rik'"}],"encoding":{"x":{"field":"grp","type":"nominal","title":null,"scale":{"domain":["CTL","D300"],"paddingInner":0.33,"paddingOuter":0.35}},"y":{"field":"v","type":"quantitative","title":null,"scale":{"domain":[0,24]},"axis":{"values":[0,10,20]}}},
    "layer":[{"mark":{"type":"bar","strokeWidth":0.6},"encoding":{"fill":{"condition":{"test":"datum.grp=='CTL'","value":"#a6a6a6"},"value":"#e8332b"},"stroke":{"condition":{"test":"datum.grp=='CTL'","value":"#808080"},"value":"#b02020"}}},{"transform":[{"filter":"datum.hi>0"}],"mark":{"type":"errorbar","ticks":{"size":5},"color":"black","thickness":1},"encoding":{"y":{"field":"lo","type":"quantitative","title":null},"y2":{"field":"hi"}}},{"transform":[{"filter":"datum.s"}],"mark":{"type":"text","dy":-8,"fontSize":13},"encoding":{"y":{"field":"hi","type":"quantitative","title":null},"text":{"field":"s"}}}]}
  ]}
 ]}
]}
]
}
